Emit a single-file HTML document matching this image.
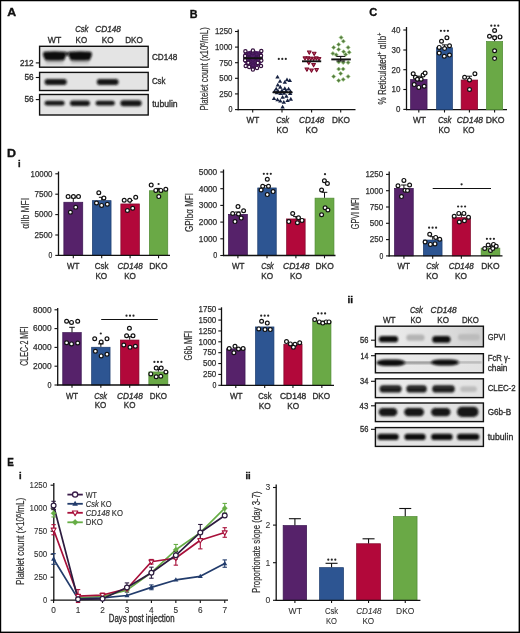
<!DOCTYPE html>
<html><head><meta charset="utf-8"><style>
html,body{margin:0;padding:0;background:#fff;width:520px;height:633px;overflow:hidden;}
svg{display:block;will-change:transform;}
text{font-family:"Liberation Sans",sans-serif;}
</style></head><body>
<svg width="520" height="633" viewBox="0 0 520 633">
<defs>
<linearGradient id="gA" x1="0" x2="1" y1="0" y2="0"><stop offset="0" stop-color="#eeeeee"/><stop offset="0.5" stop-color="#e2e2e2"/><stop offset="1" stop-color="#cfcfcf"/></linearGradient>
<linearGradient id="gB" x1="0" x2="1" y1="0" y2="0"><stop offset="0" stop-color="#ececec"/><stop offset="1" stop-color="#e2e2e2"/></linearGradient>
<linearGradient id="gC" x1="0" x2="1" y1="0" y2="0"><stop offset="0" stop-color="#e6e6e6"/><stop offset="1" stop-color="#e0e0e0"/></linearGradient>
<linearGradient id="smear" x1="0" x2="0" y1="0" y2="1"><stop offset="0" stop-color="#444"/><stop offset="1" stop-color="#c8c8c8"/></linearGradient>
<filter id="bl1" x="-20%" y="-50%" width="140%" height="200%"><feGaussianBlur stdDeviation="0.85"/></filter>
<filter id="bl2" x="-20%" y="-50%" width="140%" height="200%"><feGaussianBlur stdDeviation="1.2"/></filter>
</defs>
<rect width="520" height="633" fill="#fff"/>
<rect x="0.00" y="0.00" width="520.00" height="1.25" fill="#000" />
<rect x="0.00" y="0.00" width="1.20" height="633.00" fill="#000" />
<rect x="518.60" y="0.00" width="1.40" height="633.00" fill="#000" />
<rect x="0.00" y="631.60" width="520.00" height="1.40" fill="#000" />
<text x="7.30" y="15.80" font-size="11.5" font-weight="bold" font-style="normal" fill="#111" stroke="#111" stroke-width="0.35" textLength="8.90" lengthAdjust="spacingAndGlyphs" >A</text>
<text x="75.20" y="32.30" font-size="8.7" font-weight="normal" font-style="italic" fill="#303030" stroke="#303030" stroke-width="0.35" textLength="13.20" lengthAdjust="spacingAndGlyphs" >Csk</text>
<text x="95.20" y="32.30" font-size="8.7" font-weight="normal" font-style="italic" fill="#303030" stroke="#303030" stroke-width="0.35" textLength="25.80" lengthAdjust="spacingAndGlyphs" >CD148</text>
<text x="47.80" y="42.50" font-size="8.7" font-weight="normal" font-style="normal" fill="#303030" stroke="#303030" stroke-width="0.35" textLength="13.40" lengthAdjust="spacingAndGlyphs" >WT</text>
<text x="75.60" y="42.50" font-size="8.7" font-weight="normal" font-style="normal" fill="#303030" stroke="#303030" stroke-width="0.35" textLength="11.50" lengthAdjust="spacingAndGlyphs" >KO</text>
<text x="101.80" y="42.50" font-size="8.7" font-weight="normal" font-style="normal" fill="#303030" stroke="#303030" stroke-width="0.35" textLength="11.80" lengthAdjust="spacingAndGlyphs" >KO</text>
<text x="125.20" y="42.50" font-size="8.7" font-weight="normal" font-style="normal" fill="#303030" stroke="#303030" stroke-width="0.35" textLength="17.60" lengthAdjust="spacingAndGlyphs" >DKO</text>
<rect x="39.6" y="46.3" width="108.6" height="20.90" fill="#e4e4e4" stroke="#111" stroke-width="1.4"/>
<rect x="39.6" y="72.4" width="108.6" height="18.10" fill="#e4e4e4" stroke="#111" stroke-width="1.4"/>
<rect x="39.6" y="94.5" width="108.6" height="20.50" fill="#e4e4e4" stroke="#111" stroke-width="1.4"/>
<path d="M44.0,51.8 Q54.55,50.6 65.1,51.8 Q66.7,53 66.1,55.5 L64.1,60.2 Q54.55,61.2 45.199999999999996,60.2 L43.099999999999994,55.5 Q42.5,53 44.0,51.8 Z" fill="#0e0e0e" filter="url(#bl1)"/>
<rect x="45.8" y="59.5" width="17.5" height="5.3" fill="url(#smear)" opacity="0.4" filter="url(#bl1)"/>
<path d="M69.4,51.8 Q80.1,50.6 90.8,51.8 Q92.4,53 91.8,55.5 L89.8,60.2 Q80.1,61.2 70.60000000000001,60.2 L68.5,55.5 Q67.9,53 69.4,51.8 Z" fill="#0e0e0e" filter="url(#bl1)"/>
<rect x="71.2" y="59.5" width="17.799999999999997" height="5.3" fill="url(#smear)" opacity="0.4" filter="url(#bl1)"/>
<rect x="65.00" y="52.20" width="4.50" height="3.20" fill="#1a1a1a" filter="url(#bl1)"/>
<rect x="44.60" y="79.10" width="22.20" height="5.90" rx="2.95" ry="2.95" fill="#121212" filter="url(#bl1)"/>
<rect x="96.80" y="79.10" width="21.80" height="5.90" rx="2.95" ry="2.95" fill="#121212" filter="url(#bl1)"/>
<rect x="44.60" y="100.70" width="20.00" height="4.90" rx="2.45" ry="2.45" fill="#121212" filter="url(#bl1)"/>
<rect x="70.00" y="100.40" width="19.90" height="5.50" rx="2.75" ry="2.75" fill="#121212" filter="url(#bl1)"/>
<rect x="95.60" y="100.80" width="19.20" height="4.80" rx="2.40" ry="2.40" fill="#121212" filter="url(#bl1)"/>
<rect x="120.40" y="100.30" width="21.20" height="5.90" rx="2.95" ry="2.95" fill="#121212" filter="url(#bl1)"/>
<line x1="35.80" y1="62.90" x2="39.60" y2="62.90" stroke="#111" stroke-width="1.1"/>
<text x="19.90" y="65.70" font-size="8.3" font-weight="normal" font-style="normal" fill="#303030" stroke="#303030" stroke-width="0.35" textLength="13.70" lengthAdjust="spacingAndGlyphs" >212</text>
<line x1="35.80" y1="77.50" x2="39.60" y2="77.50" stroke="#111" stroke-width="1.1"/>
<text x="24.50" y="80.30" font-size="8.3" font-weight="normal" font-style="normal" fill="#303030" stroke="#303030" stroke-width="0.35" textLength="9.10" lengthAdjust="spacingAndGlyphs" >56</text>
<line x1="35.80" y1="99.60" x2="39.60" y2="99.60" stroke="#111" stroke-width="1.1"/>
<text x="24.50" y="102.40" font-size="8.3" font-weight="normal" font-style="normal" fill="#303030" stroke="#303030" stroke-width="0.35" textLength="9.10" lengthAdjust="spacingAndGlyphs" >56</text>
<text x="151.90" y="59.60" font-size="8.7" font-weight="normal" font-style="normal" fill="#303030" stroke="#303030" stroke-width="0.35" textLength="25.50" lengthAdjust="spacingAndGlyphs" >CD148</text>
<text x="151.90" y="83.90" font-size="8.7" font-weight="normal" font-style="normal" fill="#303030" stroke="#303030" stroke-width="0.35" textLength="13.60" lengthAdjust="spacingAndGlyphs" >Csk</text>
<text x="152.20" y="106.90" font-size="8.7" font-weight="normal" font-style="normal" fill="#303030" stroke="#303030" stroke-width="0.35" textLength="25.50" lengthAdjust="spacingAndGlyphs" >tubulin</text>
<text x="189.80" y="17.70" font-size="11.5" font-weight="bold" font-style="normal" fill="#111" stroke="#111" stroke-width="0.35" textLength="7.80" lengthAdjust="spacingAndGlyphs" >B</text>
<line x1="238.20" y1="29.50" x2="238.20" y2="110.20" stroke="#111" stroke-width="1.3"/>
<line x1="235.00" y1="31.50" x2="238.20" y2="31.50" stroke="#111" stroke-width="1.1"/>
<text x="215.00" y="34.30" font-size="8.3" font-weight="normal" font-style="normal" fill="#303030" stroke="#303030" stroke-width="0.25" textLength="17.40" lengthAdjust="spacingAndGlyphs" >1250</text>
<line x1="235.00" y1="47.10" x2="238.20" y2="47.10" stroke="#111" stroke-width="1.1"/>
<text x="215.00" y="49.90" font-size="8.3" font-weight="normal" font-style="normal" fill="#303030" stroke="#303030" stroke-width="0.25" textLength="17.40" lengthAdjust="spacingAndGlyphs" >1000</text>
<line x1="235.00" y1="62.70" x2="238.20" y2="62.70" stroke="#111" stroke-width="1.1"/>
<text x="219.30" y="65.50" font-size="8.3" font-weight="normal" font-style="normal" fill="#303030" stroke="#303030" stroke-width="0.25" textLength="13.10" lengthAdjust="spacingAndGlyphs" >750</text>
<line x1="235.00" y1="78.30" x2="238.20" y2="78.30" stroke="#111" stroke-width="1.1"/>
<text x="219.30" y="81.10" font-size="8.3" font-weight="normal" font-style="normal" fill="#303030" stroke="#303030" stroke-width="0.25" textLength="13.10" lengthAdjust="spacingAndGlyphs" >500</text>
<line x1="235.00" y1="93.90" x2="238.20" y2="93.90" stroke="#111" stroke-width="1.1"/>
<text x="219.30" y="96.70" font-size="8.3" font-weight="normal" font-style="normal" fill="#303030" stroke="#303030" stroke-width="0.25" textLength="13.10" lengthAdjust="spacingAndGlyphs" >250</text>
<line x1="235.00" y1="109.60" x2="238.20" y2="109.60" stroke="#111" stroke-width="1.1"/>
<text x="228.40" y="112.40" font-size="8.3" font-weight="normal" font-style="normal" fill="#303030" stroke="#303030" stroke-width="0.25" textLength="4.00" lengthAdjust="spacingAndGlyphs" >0</text>
<line x1="237.60" y1="109.70" x2="355.50" y2="109.70" stroke="#111" stroke-width="1.3"/>
<line x1="252.70" y1="109.70" x2="252.70" y2="112.50" stroke="#111" stroke-width="1.1"/>
<line x1="282.00" y1="109.70" x2="282.00" y2="112.50" stroke="#111" stroke-width="1.1"/>
<line x1="311.60" y1="109.70" x2="311.60" y2="112.50" stroke="#111" stroke-width="1.1"/>
<line x1="340.70" y1="109.70" x2="340.70" y2="112.50" stroke="#111" stroke-width="1.1"/>
<text x="246.50" y="122.60" font-size="8.7" font-weight="normal" font-style="normal" fill="#303030" stroke="#303030" stroke-width="0.35" textLength="12.70" lengthAdjust="spacingAndGlyphs" >WT</text>
<text x="276.00" y="122.60" font-size="8.7" font-weight="normal" font-style="italic" fill="#303030" stroke="#303030" stroke-width="0.35" textLength="13.20" lengthAdjust="spacingAndGlyphs" >Csk</text>
<text x="299.00" y="122.60" font-size="8.7" font-weight="normal" font-style="italic" fill="#303030" stroke="#303030" stroke-width="0.35" textLength="25.40" lengthAdjust="spacingAndGlyphs" >CD148</text>
<text x="332.00" y="122.60" font-size="8.7" font-weight="normal" font-style="normal" fill="#303030" stroke="#303030" stroke-width="0.35" textLength="17.80" lengthAdjust="spacingAndGlyphs" >DKO</text>
<text x="276.60" y="132.80" font-size="8.7" font-weight="normal" font-style="normal" fill="#303030" stroke="#303030" stroke-width="0.35" textLength="11.60" lengthAdjust="spacingAndGlyphs" >KO</text>
<text x="305.60" y="132.80" font-size="8.7" font-weight="normal" font-style="normal" fill="#303030" stroke="#303030" stroke-width="0.35" textLength="12.00" lengthAdjust="spacingAndGlyphs" >KO</text>
<text transform="translate(208.20,110.60) rotate(-90)" font-size="10" font-style="normal" fill="#303030" stroke="#303030" stroke-width="0.2" textLength="83.40" lengthAdjust="spacingAndGlyphs">Platelet count (x10<tspan font-size="6.5" dy="-3.5">6</tspan><tspan dy="3.5">/mL)</tspan></text>
<path d="M244.2,50.5 Q249,52.6 252.9,49.6 Q257,52.6 262,50.5 L262.8,57 L262.3,62 Q259,66.5 253,69.5 Q247,66.5 243.8,62 L243.3,57 Z" fill="#4f1d66"/>
<circle cx="249.00" cy="54.30" r="1.7" fill="none" stroke="#3a1450" stroke-width="0.9"/>
<circle cx="256.60" cy="54.30" r="1.7" fill="none" stroke="#3a1450" stroke-width="0.9"/>
<circle cx="252.80" cy="53.20" r="1.7" fill="none" stroke="#3a1450" stroke-width="0.9"/>
<circle cx="250.40" cy="61.60" r="1.7" fill="none" stroke="#3a1450" stroke-width="0.9"/>
<circle cx="255.40" cy="61.60" r="1.7" fill="none" stroke="#3a1450" stroke-width="0.9"/>
<circle cx="253.00" cy="65.40" r="1.7" fill="none" stroke="#3a1450" stroke-width="0.9"/>
<circle cx="249.50" cy="57.80" r="1.7" fill="none" stroke="#3a1450" stroke-width="0.9"/>
<circle cx="256.20" cy="57.80" r="1.7" fill="none" stroke="#3a1450" stroke-width="0.9"/>
<circle cx="252.90" cy="50.60" r="1.65" fill="#fff" stroke="#35113f" stroke-width="1.2"/>
<circle cx="245.40" cy="51.20" r="1.65" fill="#fff" stroke="#35113f" stroke-width="1.2"/>
<circle cx="261.30" cy="51.00" r="1.65" fill="#fff" stroke="#35113f" stroke-width="1.2"/>
<circle cx="245.10" cy="56.00" r="1.65" fill="#fff" stroke="#35113f" stroke-width="1.2"/>
<circle cx="245.10" cy="60.30" r="1.65" fill="#fff" stroke="#35113f" stroke-width="1.2"/>
<circle cx="261.00" cy="55.80" r="1.65" fill="#fff" stroke="#35113f" stroke-width="1.2"/>
<circle cx="261.30" cy="60.60" r="1.65" fill="#fff" stroke="#35113f" stroke-width="1.2"/>
<circle cx="248.30" cy="62.80" r="1.65" fill="#fff" stroke="#35113f" stroke-width="1.2"/>
<circle cx="257.80" cy="62.90" r="1.65" fill="#fff" stroke="#35113f" stroke-width="1.2"/>
<circle cx="245.70" cy="66.00" r="1.65" fill="#fff" stroke="#35113f" stroke-width="1.2"/>
<circle cx="249.20" cy="66.90" r="1.65" fill="#fff" stroke="#35113f" stroke-width="1.2"/>
<circle cx="252.90" cy="69.60" r="1.65" fill="#fff" stroke="#35113f" stroke-width="1.2"/>
<circle cx="257.00" cy="67.90" r="1.65" fill="#fff" stroke="#35113f" stroke-width="1.2"/>
<circle cx="261.00" cy="66.00" r="1.65" fill="#fff" stroke="#35113f" stroke-width="1.2"/>
<line x1="243.40" y1="58.20" x2="262.60" y2="58.20" stroke="#111" stroke-width="1.9"/>
<polygon points="277.50,74.73 275.30,78.55 279.70,78.55" fill="#172242" />
<polygon points="280.00,79.03 277.80,82.85 282.20,82.85" fill="#172242" />
<polygon points="284.80,80.03 282.60,83.85 287.00,83.85" fill="#172242" />
<polygon points="287.00,77.53 284.80,81.35 289.20,81.35" fill="#172242" />
<polygon points="289.80,78.13 287.60,81.95 292.00,81.95" fill="#172242" />
<polygon points="277.80,82.63 275.60,86.45 280.00,86.45" fill="#172242" />
<polygon points="280.30,84.83 278.10,88.65 282.50,88.65" fill="#172242" />
<polygon points="276.20,86.73 274.00,90.55 278.40,90.55" fill="#172242" />
<polygon points="284.80,86.13 282.60,89.95 287.00,89.95" fill="#172242" />
<polygon points="288.60,86.73 286.40,90.55 290.80,90.55" fill="#172242" />
<polygon points="274.50,89.13 272.30,92.95 276.70,92.95" fill="#172242" />
<polygon points="278.00,88.63 275.80,92.45 280.20,92.45" fill="#172242" />
<polygon points="282.00,88.13 279.80,91.95 284.20,91.95" fill="#172242" />
<polygon points="286.00,88.63 283.80,92.45 288.20,92.45" fill="#172242" />
<polygon points="290.50,89.23 288.30,93.05 292.70,93.05" fill="#172242" />
<polygon points="276.90,90.53 274.70,94.35 279.10,94.35" fill="#172242" />
<polygon points="280.50,91.13 278.30,94.95 282.70,94.95" fill="#172242" />
<polygon points="284.00,90.83 281.80,94.65 286.20,94.65" fill="#172242" />
<polygon points="290.20,91.13 288.00,94.95 292.40,94.95" fill="#172242" />
<polygon points="282.60,94.93 280.40,98.75 284.80,98.75" fill="#172242" />
<polygon points="286.40,94.03 284.20,97.85 288.60,97.85" fill="#172242" />
<polygon points="274.00,96.23 271.80,100.05 276.20,100.05" fill="#172242" />
<polygon points="277.50,97.43 275.30,101.25 279.70,101.25" fill="#172242" />
<polygon points="280.30,98.73 278.10,102.55 282.50,102.55" fill="#172242" />
<polygon points="283.80,100.03 281.60,103.85 286.00,103.85" fill="#172242" />
<polygon points="287.60,98.13 285.40,101.95 289.80,101.95" fill="#172242" />
<polygon points="290.80,96.83 288.60,100.65 293.00,100.65" fill="#172242" />
<polygon points="282.60,104.73 280.40,108.55 284.80,108.55" fill="#172242" />
<line x1="272.70" y1="92.30" x2="292.40" y2="92.30" stroke="#111" stroke-width="2.0"/>
<circle cx="278.80" cy="58.90" r="1.1" fill="#262626"/>
<circle cx="282.30" cy="58.90" r="1.1" fill="#262626"/>
<circle cx="285.80" cy="58.90" r="1.1" fill="#262626"/>
<polygon points="309.30,54.20 307.45,50.98 311.15,50.98" fill="#c9556f" stroke="#7d0d2e" stroke-width="1.1" stroke-linejoin="round"/>
<polygon points="314.20,55.50 312.35,52.28 316.05,52.28" fill="#c9556f" stroke="#7d0d2e" stroke-width="1.1" stroke-linejoin="round"/>
<polygon points="305.00,60.10 303.15,56.88 306.85,56.88" fill="#c9556f" stroke="#7d0d2e" stroke-width="1.1" stroke-linejoin="round"/>
<polygon points="308.00,60.10 306.15,56.88 309.85,56.88" fill="#c9556f" stroke="#7d0d2e" stroke-width="1.1" stroke-linejoin="round"/>
<polygon points="310.70,60.40 308.85,57.18 312.55,57.18" fill="#c9556f" stroke="#7d0d2e" stroke-width="1.1" stroke-linejoin="round"/>
<polygon points="313.60,60.50 311.75,57.28 315.45,57.28" fill="#c9556f" stroke="#7d0d2e" stroke-width="1.1" stroke-linejoin="round"/>
<polygon points="316.30,60.10 314.45,56.88 318.15,56.88" fill="#c9556f" stroke="#7d0d2e" stroke-width="1.1" stroke-linejoin="round"/>
<polygon points="319.00,60.80 317.15,57.58 320.85,57.58" fill="#c9556f" stroke="#7d0d2e" stroke-width="1.1" stroke-linejoin="round"/>
<polygon points="308.80,64.60 306.95,61.38 310.65,61.38" fill="#c9556f" stroke="#7d0d2e" stroke-width="1.1" stroke-linejoin="round"/>
<polygon points="313.60,66.80 311.75,63.58 315.45,63.58" fill="#c9556f" stroke="#7d0d2e" stroke-width="1.1" stroke-linejoin="round"/>
<polygon points="306.90,71.20 305.05,67.98 308.75,67.98" fill="#c9556f" stroke="#7d0d2e" stroke-width="1.1" stroke-linejoin="round"/>
<polygon points="311.50,72.20 309.65,68.98 313.35,68.98" fill="#c9556f" stroke="#7d0d2e" stroke-width="1.1" stroke-linejoin="round"/>
<polygon points="316.60,71.70 314.75,68.48 318.45,68.48" fill="#c9556f" stroke="#7d0d2e" stroke-width="1.1" stroke-linejoin="round"/>
<line x1="302.00" y1="61.30" x2="321.20" y2="61.30" stroke="#111" stroke-width="1.9"/>
<polygon points="341.10,35.50 343.10,37.50 341.10,39.50 339.10,37.50" fill="#557a40" stroke="#9ccc80" stroke-width="0.7"/>
<polygon points="343.40,39.20 345.40,41.20 343.40,43.20 341.40,41.20" fill="#557a40" stroke="#9ccc80" stroke-width="0.7"/>
<polygon points="338.70,42.50 340.70,44.50 338.70,46.50 336.70,44.50" fill="#557a40" stroke="#9ccc80" stroke-width="0.7"/>
<polygon points="333.70,45.40 335.70,47.40 333.70,49.40 331.70,47.40" fill="#557a40" stroke="#9ccc80" stroke-width="0.7"/>
<polygon points="348.10,45.40 350.10,47.40 348.10,49.40 346.10,47.40" fill="#557a40" stroke="#9ccc80" stroke-width="0.7"/>
<polygon points="338.70,47.40 340.70,49.40 338.70,51.40 336.70,49.40" fill="#557a40" stroke="#9ccc80" stroke-width="0.7"/>
<polygon points="343.60,49.70 345.60,51.70 343.60,53.70 341.60,51.70" fill="#557a40" stroke="#9ccc80" stroke-width="0.7"/>
<polygon points="332.90,51.50 334.90,53.50 332.90,55.50 330.90,53.50" fill="#557a40" stroke="#9ccc80" stroke-width="0.7"/>
<polygon points="349.20,50.30 351.20,52.30 349.20,54.30 347.20,52.30" fill="#557a40" stroke="#9ccc80" stroke-width="0.7"/>
<polygon points="336.20,52.80 338.20,54.80 336.20,56.80 334.20,54.80" fill="#557a40" stroke="#9ccc80" stroke-width="0.7"/>
<polygon points="345.70,52.50 347.70,54.50 345.70,56.50 343.70,54.50" fill="#557a40" stroke="#9ccc80" stroke-width="0.7"/>
<polygon points="338.70,60.10 340.70,62.10 338.70,64.10 336.70,62.10" fill="#557a40" stroke="#9ccc80" stroke-width="0.7"/>
<polygon points="343.20,60.60 345.20,62.60 343.20,64.60 341.20,62.60" fill="#557a40" stroke="#9ccc80" stroke-width="0.7"/>
<polygon points="348.10,60.60 350.10,62.60 348.10,64.60 346.10,62.60" fill="#557a40" stroke="#9ccc80" stroke-width="0.7"/>
<polygon points="338.70,67.10 340.70,69.10 338.70,71.10 336.70,69.10" fill="#557a40" stroke="#9ccc80" stroke-width="0.7"/>
<polygon points="343.20,67.00 345.20,69.00 343.20,71.00 341.20,69.00" fill="#557a40" stroke="#9ccc80" stroke-width="0.7"/>
<polygon points="340.70,71.60 342.70,73.60 340.70,75.60 338.70,73.60" fill="#557a40" stroke="#9ccc80" stroke-width="0.7"/>
<polygon points="333.70,74.50 335.70,76.50 333.70,78.50 331.70,76.50" fill="#557a40" stroke="#9ccc80" stroke-width="0.7"/>
<polygon points="348.10,74.50 350.10,76.50 348.10,78.50 346.10,76.50" fill="#557a40" stroke="#9ccc80" stroke-width="0.7"/>
<polygon points="338.70,78.60 340.70,80.60 338.70,82.60 336.70,80.60" fill="#557a40" stroke="#9ccc80" stroke-width="0.7"/>
<polygon points="343.20,77.40 345.20,79.40 343.20,81.40 341.20,79.40" fill="#557a40" stroke="#9ccc80" stroke-width="0.7"/>
<line x1="331.30" y1="59.40" x2="350.80" y2="59.40" stroke="#111" stroke-width="1.9"/>
<line x1="340.70" y1="56.40" x2="340.70" y2="61.00" stroke="#111" stroke-width="1.0"/>
<line x1="336.40" y1="56.40" x2="345.20" y2="56.40" stroke="#111" stroke-width="1.1"/>
<line x1="336.40" y1="61.00" x2="345.20" y2="61.00" stroke="#111" stroke-width="1.1"/>
<text x="369.30" y="16.20" font-size="11.5" font-weight="bold" font-style="normal" fill="#111" stroke="#111" stroke-width="0.35" textLength="8.00" lengthAdjust="spacingAndGlyphs" >C</text>
<line x1="406.50" y1="27.00" x2="406.50" y2="110.20" stroke="#111" stroke-width="1.3"/>
<line x1="403.30" y1="30.00" x2="406.50" y2="30.00" stroke="#111" stroke-width="1.1"/>
<text x="391.50" y="32.80" font-size="8.3" font-weight="normal" font-style="normal" fill="#303030" stroke="#303030" stroke-width="0.25" textLength="8.90" lengthAdjust="spacingAndGlyphs" >40</text>
<line x1="403.30" y1="50.00" x2="406.50" y2="50.00" stroke="#111" stroke-width="1.1"/>
<text x="391.50" y="52.80" font-size="8.3" font-weight="normal" font-style="normal" fill="#303030" stroke="#303030" stroke-width="0.25" textLength="8.90" lengthAdjust="spacingAndGlyphs" >30</text>
<line x1="403.30" y1="69.70" x2="406.50" y2="69.70" stroke="#111" stroke-width="1.1"/>
<text x="391.50" y="72.50" font-size="8.3" font-weight="normal" font-style="normal" fill="#303030" stroke="#303030" stroke-width="0.25" textLength="8.90" lengthAdjust="spacingAndGlyphs" >20</text>
<line x1="403.30" y1="89.50" x2="406.50" y2="89.50" stroke="#111" stroke-width="1.1"/>
<text x="391.50" y="92.30" font-size="8.3" font-weight="normal" font-style="normal" fill="#303030" stroke="#303030" stroke-width="0.25" textLength="8.90" lengthAdjust="spacingAndGlyphs" >10</text>
<line x1="403.30" y1="109.40" x2="406.50" y2="109.40" stroke="#111" stroke-width="1.1"/>
<text x="396.00" y="112.20" font-size="8.3" font-weight="normal" font-style="normal" fill="#303030" stroke="#303030" stroke-width="0.25" textLength="4.40" lengthAdjust="spacingAndGlyphs" >0</text>
<line x1="405.90" y1="109.70" x2="507.00" y2="109.70" stroke="#111" stroke-width="1.3"/>
<line x1="418.80" y1="109.70" x2="418.80" y2="112.50" stroke="#111" stroke-width="1.1"/>
<line x1="444.50" y1="109.70" x2="444.50" y2="112.50" stroke="#111" stroke-width="1.1"/>
<line x1="469.40" y1="109.70" x2="469.40" y2="112.50" stroke="#111" stroke-width="1.1"/>
<line x1="494.60" y1="109.70" x2="494.60" y2="112.50" stroke="#111" stroke-width="1.1"/>
<rect x="410.65" y="79.55" width="16.40" height="30.15" fill="#56226a" stroke="#3a1450" stroke-width="0.7"/>
<rect x="436.55" y="47.75" width="15.90" height="61.95" fill="#2d5592" stroke="#1d3c6e" stroke-width="0.7"/>
<rect x="461.15" y="80.05" width="16.50" height="29.65" fill="#b2083a" stroke="#80062a" stroke-width="0.7"/>
<rect x="486.55" y="41.55" width="16.10" height="68.15" fill="#6aa946" stroke="#4f8a33" stroke-width="0.7"/>
<line x1="418.80" y1="79.20" x2="418.80" y2="76.20" stroke="#111" stroke-width="1.0"/>
<line x1="416.20" y1="76.20" x2="421.40" y2="76.20" stroke="#111" stroke-width="1.0"/>
<line x1="444.50" y1="47.40" x2="444.50" y2="44.90" stroke="#111" stroke-width="1.0"/>
<line x1="441.90" y1="44.90" x2="447.10" y2="44.90" stroke="#111" stroke-width="1.0"/>
<line x1="469.40" y1="79.70" x2="469.40" y2="76.20" stroke="#111" stroke-width="1.0"/>
<line x1="466.80" y1="76.20" x2="472.00" y2="76.20" stroke="#111" stroke-width="1.0"/>
<line x1="494.60" y1="41.20" x2="494.60" y2="36.20" stroke="#111" stroke-width="1.0"/>
<line x1="492.00" y1="36.20" x2="497.20" y2="36.20" stroke="#111" stroke-width="1.0"/>
<circle cx="413.20" cy="73.80" r="1.9" fill="#fff" stroke="#111" stroke-width="1.2"/>
<circle cx="415.40" cy="77.20" r="1.9" fill="#fff" stroke="#111" stroke-width="1.2"/>
<circle cx="417.40" cy="79.20" r="1.9" fill="#fff" stroke="#111" stroke-width="1.2"/>
<circle cx="421.10" cy="79.20" r="1.9" fill="#fff" stroke="#111" stroke-width="1.2"/>
<circle cx="423.10" cy="75.10" r="1.9" fill="#fff" stroke="#111" stroke-width="1.2"/>
<circle cx="425.10" cy="73.10" r="1.9" fill="#fff" stroke="#111" stroke-width="1.2"/>
<circle cx="414.20" cy="84.60" r="1.9" fill="#fff" stroke="#111" stroke-width="1.2"/>
<circle cx="418.80" cy="87.40" r="1.9" fill="#fff" stroke="#111" stroke-width="1.2"/>
<circle cx="424.20" cy="86.20" r="1.9" fill="#fff" stroke="#111" stroke-width="1.2"/>
<circle cx="446.90" cy="37.70" r="1.9" fill="#fff" stroke="#111" stroke-width="1.2"/>
<circle cx="441.50" cy="41.20" r="1.9" fill="#fff" stroke="#111" stroke-width="1.2"/>
<circle cx="439.20" cy="47.40" r="1.9" fill="#fff" stroke="#111" stroke-width="1.2"/>
<circle cx="444.60" cy="48.50" r="1.9" fill="#fff" stroke="#111" stroke-width="1.2"/>
<circle cx="449.50" cy="45.80" r="1.9" fill="#fff" stroke="#111" stroke-width="1.2"/>
<circle cx="439.20" cy="53.10" r="1.9" fill="#fff" stroke="#111" stroke-width="1.2"/>
<circle cx="444.30" cy="56.20" r="1.9" fill="#fff" stroke="#111" stroke-width="1.2"/>
<circle cx="449.50" cy="55.10" r="1.9" fill="#fff" stroke="#111" stroke-width="1.2"/>
<circle cx="464.60" cy="77.20" r="1.9" fill="#fff" stroke="#111" stroke-width="1.2"/>
<circle cx="469.50" cy="80.00" r="1.9" fill="#fff" stroke="#111" stroke-width="1.2"/>
<circle cx="474.90" cy="73.80" r="1.9" fill="#fff" stroke="#111" stroke-width="1.2"/>
<circle cx="469.50" cy="89.50" r="1.9" fill="#fff" stroke="#111" stroke-width="1.2"/>
<circle cx="494.60" cy="30.50" r="1.9" fill="#fff" stroke="#111" stroke-width="1.2"/>
<circle cx="489.50" cy="36.20" r="1.9" fill="#fff" stroke="#111" stroke-width="1.2"/>
<circle cx="494.60" cy="37.70" r="1.9" fill="#fff" stroke="#111" stroke-width="1.2"/>
<circle cx="500.00" cy="36.90" r="1.9" fill="#fff" stroke="#111" stroke-width="1.2"/>
<circle cx="494.60" cy="50.80" r="1.9" fill="#fff" stroke="#111" stroke-width="1.2"/>
<circle cx="494.60" cy="58.50" r="1.9" fill="#fff" stroke="#111" stroke-width="1.2"/>
<circle cx="440.90" cy="30.80" r="1.1" fill="#262626"/>
<circle cx="444.40" cy="30.80" r="1.1" fill="#262626"/>
<circle cx="447.90" cy="30.80" r="1.1" fill="#262626"/>
<circle cx="491.30" cy="25.70" r="1.1" fill="#262626"/>
<circle cx="494.80" cy="25.70" r="1.1" fill="#262626"/>
<circle cx="498.30" cy="25.70" r="1.1" fill="#262626"/>
<text x="412.90" y="123.30" font-size="8.7" font-weight="normal" font-style="normal" fill="#303030" stroke="#303030" stroke-width="0.35" textLength="12.90" lengthAdjust="spacingAndGlyphs" >WT</text>
<text x="438.00" y="123.30" font-size="8.7" font-weight="normal" font-style="italic" fill="#303030" stroke="#303030" stroke-width="0.35" textLength="13.40" lengthAdjust="spacingAndGlyphs" >Csk</text>
<text x="456.80" y="123.30" font-size="8.7" font-weight="normal" font-style="italic" fill="#303030" stroke="#303030" stroke-width="0.35" textLength="26.20" lengthAdjust="spacingAndGlyphs" >CD148</text>
<text x="485.70" y="123.30" font-size="8.7" font-weight="normal" font-style="normal" fill="#303030" stroke="#303030" stroke-width="0.35" textLength="18.80" lengthAdjust="spacingAndGlyphs" >DKO</text>
<text x="438.60" y="132.70" font-size="8.7" font-weight="normal" font-style="normal" fill="#303030" stroke="#303030" stroke-width="0.35" textLength="11.40" lengthAdjust="spacingAndGlyphs" >KO</text>
<text x="463.00" y="132.70" font-size="8.7" font-weight="normal" font-style="normal" fill="#303030" stroke="#303030" stroke-width="0.35" textLength="11.60" lengthAdjust="spacingAndGlyphs" >KO</text>
<text transform="translate(385.80,104.50) rotate(-90)" font-size="10" font-style="normal" fill="#303030" stroke="#303030" stroke-width="0.2" textLength="71.90" lengthAdjust="spacingAndGlyphs">% Reticulated<tspan font-size="6.5" dy="-3.5">+</tspan><tspan dy="3.5"> αIIb</tspan><tspan font-size="6.5" dy="-3.5">+</tspan></text>
<text x="6.90" y="157.00" font-size="11.5" font-weight="bold" font-style="normal" fill="#111" stroke="#111" stroke-width="0.35" textLength="9.00" lengthAdjust="spacingAndGlyphs" >D</text>
<text x="18.00" y="166.50" font-size="9" font-weight="bold" font-style="normal" fill="#111" stroke="#111" stroke-width="0.35" textLength="2.60" lengthAdjust="spacingAndGlyphs" >i</text>
<line x1="58.50" y1="171.50" x2="58.50" y2="256.00" stroke="#111" stroke-width="1.3"/>
<line x1="55.30" y1="173.80" x2="58.50" y2="173.80" stroke="#111" stroke-width="1.1"/>
<text x="30.50" y="176.60" font-size="8.3" font-weight="normal" font-style="normal" fill="#303030" stroke="#303030" stroke-width="0.25" textLength="21.90" lengthAdjust="spacingAndGlyphs" >10000</text>
<line x1="55.30" y1="194.20" x2="58.50" y2="194.20" stroke="#111" stroke-width="1.1"/>
<text x="34.40" y="197.00" font-size="8.3" font-weight="normal" font-style="normal" fill="#303030" stroke="#303030" stroke-width="0.25" textLength="18.00" lengthAdjust="spacingAndGlyphs" >7500</text>
<line x1="55.30" y1="214.60" x2="58.50" y2="214.60" stroke="#111" stroke-width="1.1"/>
<text x="34.40" y="217.40" font-size="8.3" font-weight="normal" font-style="normal" fill="#303030" stroke="#303030" stroke-width="0.25" textLength="18.00" lengthAdjust="spacingAndGlyphs" >5000</text>
<line x1="55.30" y1="235.00" x2="58.50" y2="235.00" stroke="#111" stroke-width="1.1"/>
<text x="34.40" y="237.80" font-size="8.3" font-weight="normal" font-style="normal" fill="#303030" stroke="#303030" stroke-width="0.25" textLength="18.00" lengthAdjust="spacingAndGlyphs" >2500</text>
<line x1="55.30" y1="255.40" x2="58.50" y2="255.40" stroke="#111" stroke-width="1.1"/>
<text x="48.60" y="258.20" font-size="8.3" font-weight="normal" font-style="normal" fill="#303030" stroke="#303030" stroke-width="0.25" textLength="3.80" lengthAdjust="spacingAndGlyphs" >0</text>
<rect x="63.85" y="202.25" width="18.90" height="53.15" fill="#56226a" stroke="#3a1450" stroke-width="0.7"/>
<rect x="92.35" y="200.65" width="18.70" height="54.75" fill="#2d5592" stroke="#1d3c6e" stroke-width="0.7"/>
<rect x="120.85" y="203.95" width="18.50" height="51.45" fill="#b2083a" stroke="#80062a" stroke-width="0.7"/>
<rect x="149.35" y="190.75" width="18.40" height="64.65" fill="#6aa946" stroke="#4f8a33" stroke-width="0.7"/>
<line x1="73.30" y1="201.90" x2="73.30" y2="197.90" stroke="#111" stroke-width="1.0"/>
<line x1="70.50" y1="197.90" x2="76.10" y2="197.90" stroke="#111" stroke-width="1.0"/>
<line x1="101.70" y1="200.30" x2="101.70" y2="197.30" stroke="#111" stroke-width="1.0"/>
<line x1="98.90" y1="197.30" x2="104.50" y2="197.30" stroke="#111" stroke-width="1.0"/>
<line x1="130.10" y1="203.60" x2="130.10" y2="200.60" stroke="#111" stroke-width="1.0"/>
<line x1="127.30" y1="200.60" x2="132.90" y2="200.60" stroke="#111" stroke-width="1.0"/>
<line x1="158.55" y1="190.40" x2="158.55" y2="188.40" stroke="#111" stroke-width="1.0"/>
<line x1="155.75" y1="188.40" x2="161.35" y2="188.40" stroke="#111" stroke-width="1.0"/>
<line x1="57.90" y1="255.40" x2="170.00" y2="255.40" stroke="#111" stroke-width="1.3"/>
<line x1="73.30" y1="255.40" x2="73.30" y2="258.20" stroke="#111" stroke-width="1.1"/>
<line x1="101.70" y1="255.40" x2="101.70" y2="258.20" stroke="#111" stroke-width="1.1"/>
<line x1="130.10" y1="255.40" x2="130.10" y2="258.20" stroke="#111" stroke-width="1.1"/>
<line x1="158.55" y1="255.40" x2="158.55" y2="258.20" stroke="#111" stroke-width="1.1"/>
<circle cx="68.10" cy="196.60" r="1.9" fill="#fff" stroke="#111" stroke-width="1.2"/>
<circle cx="73.40" cy="196.60" r="1.9" fill="#fff" stroke="#111" stroke-width="1.2"/>
<circle cx="78.50" cy="196.60" r="1.9" fill="#fff" stroke="#111" stroke-width="1.2"/>
<circle cx="75.70" cy="207.30" r="1.9" fill="#fff" stroke="#111" stroke-width="1.2"/>
<circle cx="70.40" cy="212.30" r="1.9" fill="#fff" stroke="#111" stroke-width="1.2"/>
<circle cx="98.80" cy="192.70" r="1.9" fill="#fff" stroke="#111" stroke-width="1.2"/>
<circle cx="103.90" cy="198.00" r="1.9" fill="#fff" stroke="#111" stroke-width="1.2"/>
<circle cx="96.50" cy="203.00" r="1.9" fill="#fff" stroke="#111" stroke-width="1.2"/>
<circle cx="101.60" cy="205.40" r="1.9" fill="#fff" stroke="#111" stroke-width="1.2"/>
<circle cx="107.30" cy="204.20" r="1.9" fill="#fff" stroke="#111" stroke-width="1.2"/>
<circle cx="124.20" cy="200.30" r="1.9" fill="#fff" stroke="#111" stroke-width="1.2"/>
<circle cx="129.70" cy="200.30" r="1.9" fill="#fff" stroke="#111" stroke-width="1.2"/>
<circle cx="135.70" cy="197.30" r="1.9" fill="#fff" stroke="#111" stroke-width="1.2"/>
<circle cx="132.70" cy="208.20" r="1.9" fill="#fff" stroke="#111" stroke-width="1.2"/>
<circle cx="127.40" cy="210.50" r="1.9" fill="#fff" stroke="#111" stroke-width="1.2"/>
<circle cx="151.20" cy="185.10" r="1.9" fill="#fff" stroke="#111" stroke-width="1.2"/>
<circle cx="155.80" cy="190.40" r="1.9" fill="#fff" stroke="#111" stroke-width="1.2"/>
<circle cx="160.90" cy="190.40" r="1.9" fill="#fff" stroke="#111" stroke-width="1.2"/>
<circle cx="165.80" cy="189.20" r="1.9" fill="#fff" stroke="#111" stroke-width="1.2"/>
<circle cx="158.80" cy="196.60" r="1.9" fill="#fff" stroke="#111" stroke-width="1.2"/>
<circle cx="158.60" cy="184.00" r="1.1" fill="#262626"/>
<text x="67.00" y="268.60" font-size="8.7" font-weight="normal" font-style="normal" fill="#303030" stroke="#303030" stroke-width="0.35" textLength="12.50" lengthAdjust="spacingAndGlyphs" >WT</text>
<text x="94.70" y="268.60" font-size="8.7" font-weight="normal" font-style="normal" fill="#303030" stroke="#303030" stroke-width="0.35" textLength="13.70" lengthAdjust="spacingAndGlyphs" >Csk</text>
<text x="117.50" y="268.60" font-size="8.7" font-weight="normal" font-style="italic" fill="#303030" stroke="#303030" stroke-width="0.35" textLength="25.20" lengthAdjust="spacingAndGlyphs" >CD148</text>
<text x="149.20" y="268.60" font-size="8.7" font-weight="normal" font-style="normal" fill="#303030" stroke="#303030" stroke-width="0.35" textLength="18.30" lengthAdjust="spacingAndGlyphs" >DKO</text>
<text x="95.40" y="278.60" font-size="8.7" font-weight="normal" font-style="normal" fill="#303030" stroke="#303030" stroke-width="0.35" textLength="11.80" lengthAdjust="spacingAndGlyphs" >KO</text>
<text x="124.20" y="278.60" font-size="8.7" font-weight="normal" font-style="normal" fill="#303030" stroke="#303030" stroke-width="0.35" textLength="11.70" lengthAdjust="spacingAndGlyphs" >KO</text>
<text transform="translate(28.60,228.80) rotate(-90)" font-size="10.2" font-style="normal" fill="#303030" stroke="#303030" stroke-width="0.2" textLength="30.80" lengthAdjust="spacingAndGlyphs">αIIb MFI</text>
<line x1="223.50" y1="169.50" x2="223.50" y2="256.10" stroke="#111" stroke-width="1.3"/>
<line x1="220.30" y1="172.00" x2="223.50" y2="172.00" stroke="#111" stroke-width="1.1"/>
<text x="198.80" y="174.80" font-size="8.3" font-weight="normal" font-style="normal" fill="#303030" stroke="#303030" stroke-width="0.25" textLength="18.40" lengthAdjust="spacingAndGlyphs" >5000</text>
<line x1="220.30" y1="188.70" x2="223.50" y2="188.70" stroke="#111" stroke-width="1.1"/>
<text x="198.80" y="191.50" font-size="8.3" font-weight="normal" font-style="normal" fill="#303030" stroke="#303030" stroke-width="0.25" textLength="18.40" lengthAdjust="spacingAndGlyphs" >4000</text>
<line x1="220.30" y1="205.40" x2="223.50" y2="205.40" stroke="#111" stroke-width="1.1"/>
<text x="198.80" y="208.20" font-size="8.3" font-weight="normal" font-style="normal" fill="#303030" stroke="#303030" stroke-width="0.25" textLength="18.40" lengthAdjust="spacingAndGlyphs" >3000</text>
<line x1="220.30" y1="222.10" x2="223.50" y2="222.10" stroke="#111" stroke-width="1.1"/>
<text x="198.80" y="224.90" font-size="8.3" font-weight="normal" font-style="normal" fill="#303030" stroke="#303030" stroke-width="0.25" textLength="18.40" lengthAdjust="spacingAndGlyphs" >2000</text>
<line x1="220.30" y1="238.80" x2="223.50" y2="238.80" stroke="#111" stroke-width="1.1"/>
<text x="198.80" y="241.60" font-size="8.3" font-weight="normal" font-style="normal" fill="#303030" stroke="#303030" stroke-width="0.25" textLength="18.40" lengthAdjust="spacingAndGlyphs" >1000</text>
<line x1="220.30" y1="255.50" x2="223.50" y2="255.50" stroke="#111" stroke-width="1.1"/>
<text x="213.20" y="258.30" font-size="8.3" font-weight="normal" font-style="normal" fill="#303030" stroke="#303030" stroke-width="0.25" textLength="4.00" lengthAdjust="spacingAndGlyphs" >0</text>
<rect x="228.45" y="214.35" width="18.90" height="41.15" fill="#56226a" stroke="#3a1450" stroke-width="0.7"/>
<rect x="257.75" y="187.95" width="18.50" height="67.55" fill="#2d5592" stroke="#1d3c6e" stroke-width="0.7"/>
<rect x="286.65" y="218.95" width="18.50" height="36.55" fill="#b2083a" stroke="#80062a" stroke-width="0.7"/>
<rect x="315.05" y="198.15" width="18.90" height="57.35" fill="#6aa946" stroke="#4f8a33" stroke-width="0.7"/>
<line x1="237.90" y1="214.00" x2="237.90" y2="212.00" stroke="#111" stroke-width="1.0"/>
<line x1="235.10" y1="212.00" x2="240.70" y2="212.00" stroke="#111" stroke-width="1.0"/>
<line x1="267.00" y1="187.60" x2="267.00" y2="185.60" stroke="#111" stroke-width="1.0"/>
<line x1="264.20" y1="185.60" x2="269.80" y2="185.60" stroke="#111" stroke-width="1.0"/>
<line x1="295.90" y1="218.60" x2="295.90" y2="216.60" stroke="#111" stroke-width="1.0"/>
<line x1="293.10" y1="216.60" x2="298.70" y2="216.60" stroke="#111" stroke-width="1.0"/>
<line x1="324.50" y1="197.80" x2="324.50" y2="192.30" stroke="#111" stroke-width="1.0"/>
<line x1="321.70" y1="192.30" x2="327.30" y2="192.30" stroke="#111" stroke-width="1.0"/>
<line x1="222.90" y1="255.50" x2="335.50" y2="255.50" stroke="#111" stroke-width="1.3"/>
<line x1="237.90" y1="255.50" x2="237.90" y2="258.30" stroke="#111" stroke-width="1.1"/>
<line x1="267.00" y1="255.50" x2="267.00" y2="258.30" stroke="#111" stroke-width="1.1"/>
<line x1="295.90" y1="255.50" x2="295.90" y2="258.30" stroke="#111" stroke-width="1.1"/>
<line x1="324.50" y1="255.50" x2="324.50" y2="258.30" stroke="#111" stroke-width="1.1"/>
<circle cx="238.00" cy="206.60" r="1.9" fill="#fff" stroke="#111" stroke-width="1.2"/>
<circle cx="232.70" cy="213.50" r="1.9" fill="#fff" stroke="#111" stroke-width="1.2"/>
<circle cx="238.50" cy="214.00" r="1.9" fill="#fff" stroke="#111" stroke-width="1.2"/>
<circle cx="243.60" cy="210.70" r="1.9" fill="#fff" stroke="#111" stroke-width="1.2"/>
<circle cx="235.00" cy="221.60" r="1.9" fill="#fff" stroke="#111" stroke-width="1.2"/>
<circle cx="241.20" cy="218.10" r="1.9" fill="#fff" stroke="#111" stroke-width="1.2"/>
<circle cx="267.30" cy="179.30" r="1.9" fill="#fff" stroke="#111" stroke-width="1.2"/>
<circle cx="262.70" cy="186.20" r="1.9" fill="#fff" stroke="#111" stroke-width="1.2"/>
<circle cx="268.50" cy="186.20" r="1.9" fill="#fff" stroke="#111" stroke-width="1.2"/>
<circle cx="261.10" cy="190.00" r="1.9" fill="#fff" stroke="#111" stroke-width="1.2"/>
<circle cx="273.10" cy="191.60" r="1.9" fill="#fff" stroke="#111" stroke-width="1.2"/>
<circle cx="267.30" cy="194.60" r="1.9" fill="#fff" stroke="#111" stroke-width="1.2"/>
<circle cx="292.70" cy="213.50" r="1.9" fill="#fff" stroke="#111" stroke-width="1.2"/>
<circle cx="298.50" cy="217.70" r="1.9" fill="#fff" stroke="#111" stroke-width="1.2"/>
<circle cx="288.80" cy="221.60" r="1.9" fill="#fff" stroke="#111" stroke-width="1.2"/>
<circle cx="302.00" cy="220.40" r="1.9" fill="#fff" stroke="#111" stroke-width="1.2"/>
<circle cx="297.40" cy="222.70" r="1.9" fill="#fff" stroke="#111" stroke-width="1.2"/>
<circle cx="324.40" cy="180.70" r="1.9" fill="#fff" stroke="#111" stroke-width="1.2"/>
<circle cx="327.40" cy="183.50" r="1.9" fill="#fff" stroke="#111" stroke-width="1.2"/>
<circle cx="321.60" cy="190.00" r="1.9" fill="#fff" stroke="#111" stroke-width="1.2"/>
<circle cx="325.10" cy="207.70" r="1.9" fill="#fff" stroke="#111" stroke-width="1.2"/>
<circle cx="327.90" cy="210.00" r="1.9" fill="#fff" stroke="#111" stroke-width="1.2"/>
<circle cx="321.60" cy="214.70" r="1.9" fill="#fff" stroke="#111" stroke-width="1.2"/>
<circle cx="263.80" cy="173.80" r="1.1" fill="#262626"/>
<circle cx="267.30" cy="173.80" r="1.1" fill="#262626"/>
<circle cx="270.80" cy="173.80" r="1.1" fill="#262626"/>
<circle cx="325.00" cy="174.20" r="1.1" fill="#262626"/>
<text x="232.00" y="268.70" font-size="8.7" font-weight="normal" font-style="normal" fill="#303030" stroke="#303030" stroke-width="0.35" textLength="12.50" lengthAdjust="spacingAndGlyphs" >WT</text>
<text x="261.20" y="268.70" font-size="8.7" font-weight="normal" font-style="italic" fill="#303030" stroke="#303030" stroke-width="0.35" textLength="12.50" lengthAdjust="spacingAndGlyphs" >Csk</text>
<text x="283.00" y="268.70" font-size="8.7" font-weight="normal" font-style="italic" fill="#303030" stroke="#303030" stroke-width="0.35" textLength="26.50" lengthAdjust="spacingAndGlyphs" >CD148</text>
<text x="315.50" y="268.70" font-size="8.7" font-weight="normal" font-style="normal" fill="#303030" stroke="#303030" stroke-width="0.35" textLength="18.20" lengthAdjust="spacingAndGlyphs" >DKO</text>
<text x="261.20" y="278.70" font-size="8.7" font-weight="normal" font-style="normal" fill="#303030" stroke="#303030" stroke-width="0.35" textLength="11.80" lengthAdjust="spacingAndGlyphs" >KO</text>
<text x="290.00" y="278.70" font-size="8.7" font-weight="normal" font-style="normal" fill="#303030" stroke="#303030" stroke-width="0.35" textLength="12.00" lengthAdjust="spacingAndGlyphs" >KO</text>
<text transform="translate(192.60,232.00) rotate(-90)" font-size="10.2" font-style="normal" fill="#303030" stroke="#303030" stroke-width="0.2" textLength="39.00" lengthAdjust="spacingAndGlyphs">GPIbα MFI</text>
<line x1="389.20" y1="171.50" x2="389.20" y2="256.50" stroke="#111" stroke-width="1.3"/>
<line x1="386.00" y1="174.40" x2="389.20" y2="174.40" stroke="#111" stroke-width="1.1"/>
<text x="365.40" y="177.20" font-size="8.3" font-weight="normal" font-style="normal" fill="#303030" stroke="#303030" stroke-width="0.25" textLength="17.80" lengthAdjust="spacingAndGlyphs" >1250</text>
<line x1="386.00" y1="190.70" x2="389.20" y2="190.70" stroke="#111" stroke-width="1.1"/>
<text x="365.40" y="193.50" font-size="8.3" font-weight="normal" font-style="normal" fill="#303030" stroke="#303030" stroke-width="0.25" textLength="17.80" lengthAdjust="spacingAndGlyphs" >1000</text>
<line x1="386.00" y1="207.00" x2="389.20" y2="207.00" stroke="#111" stroke-width="1.1"/>
<text x="369.80" y="209.80" font-size="8.3" font-weight="normal" font-style="normal" fill="#303030" stroke="#303030" stroke-width="0.25" textLength="13.40" lengthAdjust="spacingAndGlyphs" >750</text>
<line x1="386.00" y1="223.30" x2="389.20" y2="223.30" stroke="#111" stroke-width="1.1"/>
<text x="369.80" y="226.10" font-size="8.3" font-weight="normal" font-style="normal" fill="#303030" stroke="#303030" stroke-width="0.25" textLength="13.40" lengthAdjust="spacingAndGlyphs" >500</text>
<line x1="386.00" y1="239.60" x2="389.20" y2="239.60" stroke="#111" stroke-width="1.1"/>
<text x="369.80" y="242.40" font-size="8.3" font-weight="normal" font-style="normal" fill="#303030" stroke="#303030" stroke-width="0.25" textLength="13.40" lengthAdjust="spacingAndGlyphs" >250</text>
<line x1="386.00" y1="255.90" x2="389.20" y2="255.90" stroke="#111" stroke-width="1.1"/>
<text x="379.40" y="258.70" font-size="8.3" font-weight="normal" font-style="normal" fill="#303030" stroke="#303030" stroke-width="0.25" textLength="3.80" lengthAdjust="spacingAndGlyphs" >0</text>
<rect x="394.55" y="188.35" width="18.70" height="67.55" fill="#56226a" stroke="#3a1450" stroke-width="0.7"/>
<rect x="423.35" y="240.05" width="18.70" height="15.85" fill="#2d5592" stroke="#1d3c6e" stroke-width="0.7"/>
<rect x="452.25" y="217.65" width="18.20" height="38.25" fill="#b2083a" stroke="#80062a" stroke-width="0.7"/>
<rect x="481.15" y="248.15" width="18.70" height="7.75" fill="#6aa946" stroke="#4f8a33" stroke-width="0.7"/>
<line x1="403.90" y1="188.00" x2="403.90" y2="185.00" stroke="#111" stroke-width="1.0"/>
<line x1="401.10" y1="185.00" x2="406.70" y2="185.00" stroke="#111" stroke-width="1.0"/>
<line x1="432.70" y1="239.70" x2="432.70" y2="236.70" stroke="#111" stroke-width="1.0"/>
<line x1="429.90" y1="236.70" x2="435.50" y2="236.70" stroke="#111" stroke-width="1.0"/>
<line x1="461.35" y1="217.30" x2="461.35" y2="214.30" stroke="#111" stroke-width="1.0"/>
<line x1="458.55" y1="214.30" x2="464.15" y2="214.30" stroke="#111" stroke-width="1.0"/>
<line x1="490.50" y1="247.80" x2="490.50" y2="245.80" stroke="#111" stroke-width="1.0"/>
<line x1="487.70" y1="245.80" x2="493.30" y2="245.80" stroke="#111" stroke-width="1.0"/>
<line x1="388.60" y1="255.90" x2="502.50" y2="255.90" stroke="#111" stroke-width="1.3"/>
<line x1="403.90" y1="255.90" x2="403.90" y2="258.70" stroke="#111" stroke-width="1.1"/>
<line x1="432.70" y1="255.90" x2="432.70" y2="258.70" stroke="#111" stroke-width="1.1"/>
<line x1="461.35" y1="255.90" x2="461.35" y2="258.70" stroke="#111" stroke-width="1.1"/>
<line x1="490.50" y1="255.90" x2="490.50" y2="258.70" stroke="#111" stroke-width="1.1"/>
<circle cx="403.90" cy="180.40" r="1.9" fill="#fff" stroke="#111" stroke-width="1.2"/>
<circle cx="398.00" cy="185.70" r="1.9" fill="#fff" stroke="#111" stroke-width="1.2"/>
<circle cx="409.60" cy="185.00" r="1.9" fill="#fff" stroke="#111" stroke-width="1.2"/>
<circle cx="405.00" cy="190.30" r="1.9" fill="#fff" stroke="#111" stroke-width="1.2"/>
<circle cx="401.50" cy="196.60" r="1.9" fill="#fff" stroke="#111" stroke-width="1.2"/>
<circle cx="407.50" cy="190.50" r="1.9" fill="#fff" stroke="#111" stroke-width="1.2"/>
<circle cx="429.70" cy="234.20" r="1.9" fill="#fff" stroke="#111" stroke-width="1.2"/>
<circle cx="425.10" cy="242.00" r="1.9" fill="#fff" stroke="#111" stroke-width="1.2"/>
<circle cx="430.40" cy="244.40" r="1.9" fill="#fff" stroke="#111" stroke-width="1.2"/>
<circle cx="435.70" cy="237.40" r="1.9" fill="#fff" stroke="#111" stroke-width="1.2"/>
<circle cx="439.70" cy="239.30" r="1.9" fill="#fff" stroke="#111" stroke-width="1.2"/>
<circle cx="435.00" cy="243.90" r="1.9" fill="#fff" stroke="#111" stroke-width="1.2"/>
<circle cx="458.80" cy="213.40" r="1.9" fill="#fff" stroke="#111" stroke-width="1.2"/>
<circle cx="463.90" cy="213.40" r="1.9" fill="#fff" stroke="#111" stroke-width="1.2"/>
<circle cx="454.20" cy="216.20" r="1.9" fill="#fff" stroke="#111" stroke-width="1.2"/>
<circle cx="468.50" cy="217.30" r="1.9" fill="#fff" stroke="#111" stroke-width="1.2"/>
<circle cx="459.30" cy="222.00" r="1.9" fill="#fff" stroke="#111" stroke-width="1.2"/>
<circle cx="464.40" cy="220.80" r="1.9" fill="#fff" stroke="#111" stroke-width="1.2"/>
<circle cx="488.20" cy="245.00" r="1.9" fill="#fff" stroke="#111" stroke-width="1.2"/>
<circle cx="493.50" cy="244.40" r="1.9" fill="#fff" stroke="#111" stroke-width="1.2"/>
<circle cx="496.20" cy="246.20" r="1.9" fill="#fff" stroke="#111" stroke-width="1.2"/>
<circle cx="484.70" cy="248.50" r="1.9" fill="#fff" stroke="#111" stroke-width="1.2"/>
<circle cx="490.50" cy="250.40" r="1.9" fill="#fff" stroke="#111" stroke-width="1.2"/>
<circle cx="492.80" cy="248.50" r="1.9" fill="#fff" stroke="#111" stroke-width="1.2"/>
<line x1="432.70" y1="188.50" x2="491.00" y2="188.50" stroke="#111" stroke-width="1.1"/>
<circle cx="461.60" cy="184.30" r="1.1" fill="#262626"/>
<circle cx="429.10" cy="227.70" r="1.1" fill="#262626"/>
<circle cx="432.60" cy="227.70" r="1.1" fill="#262626"/>
<circle cx="436.10" cy="227.70" r="1.1" fill="#262626"/>
<circle cx="458.10" cy="206.50" r="1.1" fill="#262626"/>
<circle cx="461.60" cy="206.50" r="1.1" fill="#262626"/>
<circle cx="465.10" cy="206.50" r="1.1" fill="#262626"/>
<circle cx="486.90" cy="238.80" r="1.1" fill="#262626"/>
<circle cx="490.40" cy="238.80" r="1.1" fill="#262626"/>
<circle cx="493.90" cy="238.80" r="1.1" fill="#262626"/>
<text x="397.50" y="268.70" font-size="8.7" font-weight="normal" font-style="normal" fill="#303030" stroke="#303030" stroke-width="0.35" textLength="12.50" lengthAdjust="spacingAndGlyphs" >WT</text>
<text x="426.20" y="268.70" font-size="8.7" font-weight="normal" font-style="italic" fill="#303030" stroke="#303030" stroke-width="0.35" textLength="12.50" lengthAdjust="spacingAndGlyphs" >Csk</text>
<text x="448.70" y="268.70" font-size="8.7" font-weight="normal" font-style="italic" fill="#303030" stroke="#303030" stroke-width="0.35" textLength="25.00" lengthAdjust="spacingAndGlyphs" >CD148</text>
<text x="481.20" y="268.70" font-size="8.7" font-weight="normal" font-style="normal" fill="#303030" stroke="#303030" stroke-width="0.35" textLength="18.30" lengthAdjust="spacingAndGlyphs" >DKO</text>
<text x="426.20" y="278.70" font-size="8.7" font-weight="normal" font-style="normal" fill="#303030" stroke="#303030" stroke-width="0.35" textLength="11.80" lengthAdjust="spacingAndGlyphs" >KO</text>
<text x="455.00" y="278.70" font-size="8.7" font-weight="normal" font-style="normal" fill="#303030" stroke="#303030" stroke-width="0.35" textLength="12.00" lengthAdjust="spacingAndGlyphs" >KO</text>
<text transform="translate(359.20,229.20) rotate(-90)" font-size="10.2" font-style="normal" fill="#303030" stroke="#303030" stroke-width="0.2" textLength="31.50" lengthAdjust="spacingAndGlyphs">GPVI MFI</text>
<line x1="57.70" y1="308.00" x2="57.70" y2="385.60" stroke="#111" stroke-width="1.3"/>
<line x1="54.50" y1="309.80" x2="57.70" y2="309.80" stroke="#111" stroke-width="1.1"/>
<text x="33.00" y="312.60" font-size="8.3" font-weight="normal" font-style="normal" fill="#303030" stroke="#303030" stroke-width="0.25" textLength="18.60" lengthAdjust="spacingAndGlyphs" >8000</text>
<line x1="54.50" y1="328.60" x2="57.70" y2="328.60" stroke="#111" stroke-width="1.1"/>
<text x="33.00" y="331.40" font-size="8.3" font-weight="normal" font-style="normal" fill="#303030" stroke="#303030" stroke-width="0.25" textLength="18.60" lengthAdjust="spacingAndGlyphs" >6000</text>
<line x1="54.50" y1="347.40" x2="57.70" y2="347.40" stroke="#111" stroke-width="1.1"/>
<text x="33.00" y="350.20" font-size="8.3" font-weight="normal" font-style="normal" fill="#303030" stroke="#303030" stroke-width="0.25" textLength="18.60" lengthAdjust="spacingAndGlyphs" >4000</text>
<line x1="54.50" y1="366.20" x2="57.70" y2="366.20" stroke="#111" stroke-width="1.1"/>
<text x="33.00" y="369.00" font-size="8.3" font-weight="normal" font-style="normal" fill="#303030" stroke="#303030" stroke-width="0.25" textLength="18.60" lengthAdjust="spacingAndGlyphs" >2000</text>
<line x1="54.50" y1="385.00" x2="57.70" y2="385.00" stroke="#111" stroke-width="1.1"/>
<text x="47.60" y="387.80" font-size="8.3" font-weight="normal" font-style="normal" fill="#303030" stroke="#303030" stroke-width="0.25" textLength="4.00" lengthAdjust="spacingAndGlyphs" >0</text>
<rect x="62.75" y="332.65" width="18.50" height="52.35" fill="#56226a" stroke="#3a1450" stroke-width="0.7"/>
<rect x="91.65" y="347.25" width="18.40" height="37.75" fill="#2d5592" stroke="#1d3c6e" stroke-width="0.7"/>
<rect x="120.45" y="340.05" width="18.50" height="44.95" fill="#b2083a" stroke="#80062a" stroke-width="0.7"/>
<rect x="148.85" y="371.95" width="19.00" height="13.05" fill="#6aa946" stroke="#4f8a33" stroke-width="0.7"/>
<line x1="72.00" y1="332.30" x2="72.00" y2="327.30" stroke="#111" stroke-width="1.0"/>
<line x1="69.20" y1="327.30" x2="74.80" y2="327.30" stroke="#111" stroke-width="1.0"/>
<line x1="100.85" y1="346.90" x2="100.85" y2="343.90" stroke="#111" stroke-width="1.0"/>
<line x1="98.05" y1="343.90" x2="103.65" y2="343.90" stroke="#111" stroke-width="1.0"/>
<line x1="129.70" y1="339.70" x2="129.70" y2="336.70" stroke="#111" stroke-width="1.0"/>
<line x1="126.90" y1="336.70" x2="132.50" y2="336.70" stroke="#111" stroke-width="1.0"/>
<line x1="158.35" y1="371.60" x2="158.35" y2="369.60" stroke="#111" stroke-width="1.0"/>
<line x1="155.55" y1="369.60" x2="161.15" y2="369.60" stroke="#111" stroke-width="1.0"/>
<line x1="57.10" y1="385.00" x2="170.00" y2="385.00" stroke="#111" stroke-width="1.3"/>
<line x1="72.00" y1="385.00" x2="72.00" y2="387.80" stroke="#111" stroke-width="1.1"/>
<line x1="100.85" y1="385.00" x2="100.85" y2="387.80" stroke="#111" stroke-width="1.1"/>
<line x1="129.70" y1="385.00" x2="129.70" y2="387.80" stroke="#111" stroke-width="1.1"/>
<line x1="158.35" y1="385.00" x2="158.35" y2="387.80" stroke="#111" stroke-width="1.1"/>
<circle cx="66.60" cy="321.20" r="1.9" fill="#fff" stroke="#111" stroke-width="1.2"/>
<circle cx="71.50" cy="322.40" r="1.9" fill="#fff" stroke="#111" stroke-width="1.2"/>
<circle cx="77.70" cy="321.20" r="1.9" fill="#fff" stroke="#111" stroke-width="1.2"/>
<circle cx="66.60" cy="342.70" r="1.9" fill="#fff" stroke="#111" stroke-width="1.2"/>
<circle cx="71.50" cy="343.90" r="1.9" fill="#fff" stroke="#111" stroke-width="1.2"/>
<circle cx="77.70" cy="343.00" r="1.9" fill="#fff" stroke="#111" stroke-width="1.2"/>
<circle cx="94.70" cy="338.80" r="1.9" fill="#fff" stroke="#111" stroke-width="1.2"/>
<circle cx="101.20" cy="342.00" r="1.9" fill="#fff" stroke="#111" stroke-width="1.2"/>
<circle cx="107.00" cy="338.80" r="1.9" fill="#fff" stroke="#111" stroke-width="1.2"/>
<circle cx="95.40" cy="351.30" r="1.9" fill="#fff" stroke="#111" stroke-width="1.2"/>
<circle cx="101.20" cy="355.90" r="1.9" fill="#fff" stroke="#111" stroke-width="1.2"/>
<circle cx="107.00" cy="354.30" r="1.9" fill="#fff" stroke="#111" stroke-width="1.2"/>
<circle cx="129.40" cy="328.20" r="1.9" fill="#fff" stroke="#111" stroke-width="1.2"/>
<circle cx="126.60" cy="335.80" r="1.9" fill="#fff" stroke="#111" stroke-width="1.2"/>
<circle cx="133.00" cy="335.80" r="1.9" fill="#fff" stroke="#111" stroke-width="1.2"/>
<circle cx="123.80" cy="345.00" r="1.9" fill="#fff" stroke="#111" stroke-width="1.2"/>
<circle cx="130.00" cy="347.30" r="1.9" fill="#fff" stroke="#111" stroke-width="1.2"/>
<circle cx="135.40" cy="346.20" r="1.9" fill="#fff" stroke="#111" stroke-width="1.2"/>
<circle cx="156.20" cy="368.10" r="1.9" fill="#fff" stroke="#111" stroke-width="1.2"/>
<circle cx="161.20" cy="368.10" r="1.9" fill="#fff" stroke="#111" stroke-width="1.2"/>
<circle cx="150.80" cy="373.90" r="1.9" fill="#fff" stroke="#111" stroke-width="1.2"/>
<circle cx="156.20" cy="376.70" r="1.9" fill="#fff" stroke="#111" stroke-width="1.2"/>
<circle cx="160.80" cy="376.20" r="1.9" fill="#fff" stroke="#111" stroke-width="1.2"/>
<circle cx="165.90" cy="372.00" r="1.9" fill="#fff" stroke="#111" stroke-width="1.2"/>
<line x1="101.20" y1="319.50" x2="157.80" y2="319.50" stroke="#111" stroke-width="1.1"/>
<circle cx="126.50" cy="315.70" r="1.1" fill="#262626"/>
<circle cx="130.00" cy="315.70" r="1.1" fill="#262626"/>
<circle cx="133.50" cy="315.70" r="1.1" fill="#262626"/>
<circle cx="100.80" cy="333.50" r="1.1" fill="#262626"/>
<circle cx="154.40" cy="361.90" r="1.1" fill="#262626"/>
<circle cx="157.90" cy="361.90" r="1.1" fill="#262626"/>
<circle cx="161.40" cy="361.90" r="1.1" fill="#262626"/>
<text x="65.90" y="398.50" font-size="8.7" font-weight="normal" font-style="normal" fill="#303030" stroke="#303030" stroke-width="0.35" textLength="12.20" lengthAdjust="spacingAndGlyphs" >WT</text>
<text x="94.30" y="398.50" font-size="8.7" font-weight="normal" font-style="italic" fill="#303030" stroke="#303030" stroke-width="0.35" textLength="12.70" lengthAdjust="spacingAndGlyphs" >Csk</text>
<text x="116.90" y="398.50" font-size="8.7" font-weight="normal" font-style="italic" fill="#303030" stroke="#303030" stroke-width="0.35" textLength="25.90" lengthAdjust="spacingAndGlyphs" >CD148</text>
<text x="149.70" y="398.50" font-size="8.7" font-weight="normal" font-style="normal" fill="#303030" stroke="#303030" stroke-width="0.35" textLength="17.30" lengthAdjust="spacingAndGlyphs" >DKO</text>
<text x="94.70" y="408.20" font-size="8.7" font-weight="normal" font-style="normal" fill="#303030" stroke="#303030" stroke-width="0.35" textLength="11.60" lengthAdjust="spacingAndGlyphs" >KO</text>
<text x="123.80" y="408.20" font-size="8.7" font-weight="normal" font-style="normal" fill="#303030" stroke="#303030" stroke-width="0.35" textLength="11.60" lengthAdjust="spacingAndGlyphs" >KO</text>
<text transform="translate(27.70,365.80) rotate(-90)" font-size="10.2" font-style="normal" fill="#303030" stroke="#303030" stroke-width="0.2" textLength="39.30" lengthAdjust="spacingAndGlyphs">CLEC-2 MFI</text>
<line x1="221.50" y1="307.30" x2="221.50" y2="385.90" stroke="#111" stroke-width="1.3"/>
<line x1="218.30" y1="309.21" x2="221.50" y2="309.21" stroke="#111" stroke-width="1.1"/>
<text x="198.50" y="312.01" font-size="8.3" font-weight="normal" font-style="normal" fill="#303030" stroke="#303030" stroke-width="0.25" textLength="17.80" lengthAdjust="spacingAndGlyphs" >1750</text>
<line x1="218.30" y1="320.08" x2="221.50" y2="320.08" stroke="#111" stroke-width="1.1"/>
<text x="198.50" y="322.88" font-size="8.3" font-weight="normal" font-style="normal" fill="#303030" stroke="#303030" stroke-width="0.25" textLength="17.80" lengthAdjust="spacingAndGlyphs" >1500</text>
<line x1="218.30" y1="330.95" x2="221.50" y2="330.95" stroke="#111" stroke-width="1.1"/>
<text x="198.50" y="333.75" font-size="8.3" font-weight="normal" font-style="normal" fill="#303030" stroke="#303030" stroke-width="0.25" textLength="17.80" lengthAdjust="spacingAndGlyphs" >1250</text>
<line x1="218.30" y1="341.82" x2="221.50" y2="341.82" stroke="#111" stroke-width="1.1"/>
<text x="198.50" y="344.62" font-size="8.3" font-weight="normal" font-style="normal" fill="#303030" stroke="#303030" stroke-width="0.25" textLength="17.80" lengthAdjust="spacingAndGlyphs" >1000</text>
<line x1="218.30" y1="352.69" x2="221.50" y2="352.69" stroke="#111" stroke-width="1.1"/>
<text x="203.00" y="355.49" font-size="8.3" font-weight="normal" font-style="normal" fill="#303030" stroke="#303030" stroke-width="0.25" textLength="13.30" lengthAdjust="spacingAndGlyphs" >750</text>
<line x1="218.30" y1="363.56" x2="221.50" y2="363.56" stroke="#111" stroke-width="1.1"/>
<text x="203.00" y="366.36" font-size="8.3" font-weight="normal" font-style="normal" fill="#303030" stroke="#303030" stroke-width="0.25" textLength="13.30" lengthAdjust="spacingAndGlyphs" >500</text>
<line x1="218.30" y1="374.43" x2="221.50" y2="374.43" stroke="#111" stroke-width="1.1"/>
<text x="203.00" y="377.23" font-size="8.3" font-weight="normal" font-style="normal" fill="#303030" stroke="#303030" stroke-width="0.25" textLength="13.30" lengthAdjust="spacingAndGlyphs" >250</text>
<line x1="218.30" y1="385.30" x2="221.50" y2="385.30" stroke="#111" stroke-width="1.1"/>
<text x="212.40" y="388.10" font-size="8.3" font-weight="normal" font-style="normal" fill="#303030" stroke="#303030" stroke-width="0.25" textLength="3.90" lengthAdjust="spacingAndGlyphs" >0</text>
<rect x="226.55" y="348.85" width="18.50" height="36.45" fill="#56226a" stroke="#3a1450" stroke-width="0.7"/>
<rect x="255.45" y="326.95" width="18.50" height="58.35" fill="#2d5592" stroke="#1d3c6e" stroke-width="0.7"/>
<rect x="283.85" y="344.25" width="18.20" height="41.05" fill="#b2083a" stroke="#80062a" stroke-width="0.7"/>
<rect x="312.75" y="321.15" width="18.20" height="64.15" fill="#6aa946" stroke="#4f8a33" stroke-width="0.7"/>
<line x1="220.90" y1="385.30" x2="334.00" y2="385.30" stroke="#111" stroke-width="1.3"/>
<line x1="235.80" y1="385.30" x2="235.80" y2="388.10" stroke="#111" stroke-width="1.1"/>
<line x1="264.70" y1="385.30" x2="264.70" y2="388.10" stroke="#111" stroke-width="1.1"/>
<line x1="292.95" y1="385.30" x2="292.95" y2="388.10" stroke="#111" stroke-width="1.1"/>
<line x1="321.85" y1="385.30" x2="321.85" y2="388.10" stroke="#111" stroke-width="1.1"/>
<circle cx="229.20" cy="348.50" r="1.9" fill="#fff" stroke="#111" stroke-width="1.2"/>
<circle cx="235.00" cy="346.20" r="1.9" fill="#fff" stroke="#111" stroke-width="1.2"/>
<circle cx="238.50" cy="349.00" r="1.9" fill="#fff" stroke="#111" stroke-width="1.2"/>
<circle cx="243.10" cy="348.50" r="1.9" fill="#fff" stroke="#111" stroke-width="1.2"/>
<circle cx="233.90" cy="352.70" r="1.9" fill="#fff" stroke="#111" stroke-width="1.2"/>
<circle cx="261.60" cy="321.20" r="1.9" fill="#fff" stroke="#111" stroke-width="1.2"/>
<circle cx="267.30" cy="323.10" r="1.9" fill="#fff" stroke="#111" stroke-width="1.2"/>
<circle cx="258.80" cy="328.90" r="1.9" fill="#fff" stroke="#111" stroke-width="1.2"/>
<circle cx="265.00" cy="329.60" r="1.9" fill="#fff" stroke="#111" stroke-width="1.2"/>
<circle cx="270.30" cy="329.60" r="1.9" fill="#fff" stroke="#111" stroke-width="1.2"/>
<circle cx="286.50" cy="341.60" r="1.9" fill="#fff" stroke="#111" stroke-width="1.2"/>
<circle cx="290.40" cy="343.90" r="1.9" fill="#fff" stroke="#111" stroke-width="1.2"/>
<circle cx="295.00" cy="344.30" r="1.9" fill="#fff" stroke="#111" stroke-width="1.2"/>
<circle cx="299.70" cy="342.70" r="1.9" fill="#fff" stroke="#111" stroke-width="1.2"/>
<circle cx="293.40" cy="347.30" r="1.9" fill="#fff" stroke="#111" stroke-width="1.2"/>
<circle cx="314.70" cy="319.60" r="1.9" fill="#fff" stroke="#111" stroke-width="1.2"/>
<circle cx="319.30" cy="321.90" r="1.9" fill="#fff" stroke="#111" stroke-width="1.2"/>
<circle cx="322.80" cy="323.10" r="1.9" fill="#fff" stroke="#111" stroke-width="1.2"/>
<circle cx="326.20" cy="321.90" r="1.9" fill="#fff" stroke="#111" stroke-width="1.2"/>
<circle cx="329.00" cy="321.90" r="1.9" fill="#fff" stroke="#111" stroke-width="1.2"/>
<circle cx="261.20" cy="315.70" r="1.1" fill="#262626"/>
<circle cx="264.70" cy="315.70" r="1.1" fill="#262626"/>
<circle cx="268.20" cy="315.70" r="1.1" fill="#262626"/>
<circle cx="318.10" cy="313.40" r="1.1" fill="#262626"/>
<circle cx="321.60" cy="313.40" r="1.1" fill="#262626"/>
<circle cx="325.10" cy="313.40" r="1.1" fill="#262626"/>
<text x="229.90" y="398.80" font-size="8.7" font-weight="normal" font-style="normal" fill="#303030" stroke="#303030" stroke-width="0.35" textLength="12.70" lengthAdjust="spacingAndGlyphs" >WT</text>
<text x="258.30" y="398.80" font-size="8.7" font-weight="normal" font-style="normal" fill="#303030" stroke="#303030" stroke-width="0.35" textLength="13.20" lengthAdjust="spacingAndGlyphs" >Csk</text>
<text x="280.00" y="398.80" font-size="8.7" font-weight="normal" font-style="normal" fill="#303030" stroke="#303030" stroke-width="0.35" textLength="26.30" lengthAdjust="spacingAndGlyphs" >CD148</text>
<text x="312.40" y="398.80" font-size="8.7" font-weight="normal" font-style="normal" fill="#303030" stroke="#303030" stroke-width="0.35" textLength="17.60" lengthAdjust="spacingAndGlyphs" >DKO</text>
<text x="258.80" y="408.80" font-size="8.7" font-weight="normal" font-style="normal" fill="#303030" stroke="#303030" stroke-width="0.35" textLength="12.00" lengthAdjust="spacingAndGlyphs" >KO</text>
<text x="287.30" y="408.80" font-size="8.7" font-weight="normal" font-style="normal" fill="#303030" stroke="#303030" stroke-width="0.35" textLength="11.90" lengthAdjust="spacingAndGlyphs" >KO</text>
<text transform="translate(192.30,360.40) rotate(-90)" font-size="10.2" font-style="normal" fill="#303030" stroke="#303030" stroke-width="0.2" textLength="29.40" lengthAdjust="spacingAndGlyphs">G6b MFI</text>
<text x="347.40" y="302.60" font-size="9.5" font-weight="bold" font-style="normal" fill="#111" stroke="#111" stroke-width="0.3" textLength="5.60" lengthAdjust="spacingAndGlyphs" >ii</text>
<text x="410.00" y="312.80" font-size="8.7" font-weight="normal" font-style="italic" fill="#303030" stroke="#303030" stroke-width="0.35" textLength="12.80" lengthAdjust="spacingAndGlyphs" >Csk</text>
<text x="430.60" y="312.80" font-size="8.7" font-weight="normal" font-style="italic" fill="#303030" stroke="#303030" stroke-width="0.35" textLength="26.00" lengthAdjust="spacingAndGlyphs" >CD148</text>
<text x="382.90" y="322.60" font-size="8.7" font-weight="normal" font-style="normal" fill="#303030" stroke="#303030" stroke-width="0.35" textLength="12.60" lengthAdjust="spacingAndGlyphs" >WT</text>
<text x="410.60" y="322.60" font-size="8.7" font-weight="normal" font-style="normal" fill="#303030" stroke="#303030" stroke-width="0.35" textLength="10.80" lengthAdjust="spacingAndGlyphs" >KO</text>
<text x="437.30" y="322.60" font-size="8.7" font-weight="normal" font-style="normal" fill="#303030" stroke="#303030" stroke-width="0.35" textLength="11.60" lengthAdjust="spacingAndGlyphs" >KO</text>
<text x="462.00" y="322.60" font-size="8.7" font-weight="normal" font-style="normal" fill="#303030" stroke="#303030" stroke-width="0.35" textLength="16.80" lengthAdjust="spacingAndGlyphs" >DKO</text>
<rect x="375.4" y="326.2" width="108.0" height="20.60" fill="url(#gA)" stroke="#111" stroke-width="1.4"/>
<rect x="375.4" y="353.7" width="108.0" height="19.10" fill="url(#gB)" stroke="#111" stroke-width="1.4"/>
<rect x="375.4" y="378.8" width="108.0" height="18.80" fill="url(#gB)" stroke="#111" stroke-width="1.4"/>
<rect x="375.4" y="403.0" width="108.0" height="18.60" fill="url(#gC)" stroke="#111" stroke-width="1.4"/>
<rect x="375.4" y="427.6" width="108.0" height="18.80" fill="url(#gC)" stroke="#111" stroke-width="1.4"/>
<line x1="371.00" y1="340.20" x2="375.40" y2="340.20" stroke="#111" stroke-width="1.1"/>
<text x="360.00" y="343.00" font-size="8.3" font-weight="normal" font-style="normal" fill="#303030" stroke="#303030" stroke-width="0.35" textLength="8.30" lengthAdjust="spacingAndGlyphs" >56</text>
<line x1="371.00" y1="355.70" x2="375.40" y2="355.70" stroke="#111" stroke-width="1.1"/>
<text x="360.60" y="358.50" font-size="8.3" font-weight="normal" font-style="normal" fill="#303030" stroke="#303030" stroke-width="0.35" textLength="7.70" lengthAdjust="spacingAndGlyphs" >14</text>
<line x1="371.00" y1="381.30" x2="375.40" y2="381.30" stroke="#111" stroke-width="1.1"/>
<text x="360.00" y="384.10" font-size="8.3" font-weight="normal" font-style="normal" fill="#303030" stroke="#303030" stroke-width="0.35" textLength="8.30" lengthAdjust="spacingAndGlyphs" >34</text>
<line x1="371.00" y1="405.80" x2="375.40" y2="405.80" stroke="#111" stroke-width="1.1"/>
<text x="359.60" y="408.60" font-size="8.3" font-weight="normal" font-style="normal" fill="#303030" stroke="#303030" stroke-width="0.35" textLength="8.70" lengthAdjust="spacingAndGlyphs" >43</text>
<line x1="371.00" y1="429.30" x2="375.40" y2="429.30" stroke="#111" stroke-width="1.1"/>
<text x="360.00" y="432.10" font-size="8.3" font-weight="normal" font-style="normal" fill="#303030" stroke="#303030" stroke-width="0.35" textLength="8.30" lengthAdjust="spacingAndGlyphs" >56</text>
<rect x="378.90" y="336.00" width="19.20" height="6.30" rx="3.15" ry="3.15" fill="#0c0c0c" filter="url(#bl1)"/>
<rect x="406.30" y="334.50" width="18.30" height="6.30" rx="3.15" ry="3.15" fill="#b4b4b4" filter="url(#bl2)"/>
<rect x="432.20" y="336.00" width="18.30" height="6.80" rx="3.40" ry="3.40" fill="#111" filter="url(#bl1)"/>
<rect x="458.00" y="334.00" width="22.00" height="6.50" rx="3.25" ry="3.25" fill="#bcbcbc" filter="url(#bl2)"/>
<rect x="376.4" y="359.6" width="29" height="6.4" rx="9" ry="3.2" fill="#0c0c0c" filter="url(#bl1)"/>
<rect x="403.00" y="361.90" width="29.00" height="1.50" fill="#555" filter="url(#bl1)"/>
<rect x="431" y="359.4" width="28.2" height="6.0" rx="9" ry="3.0" fill="#0c0c0c" filter="url(#bl1)"/>
<rect x="457.00" y="361.70" width="25.00" height="1.30" fill="#888" filter="url(#bl1)"/>
<rect x="379.60" y="385.20" width="22.00" height="7.40" rx="3.70" ry="3.70" fill="#1a1a1a" filter="url(#bl1)"/>
<rect x="381.60" y="386.60" width="18.00" height="1.60" fill="#555" opacity="0.5" filter="url(#bl1)"/>
<rect x="406.30" y="385.20" width="20.50" height="7.40" rx="3.70" ry="3.70" fill="#1a1a1a" filter="url(#bl1)"/>
<rect x="408.30" y="386.60" width="16.50" height="1.60" fill="#555" opacity="0.5" filter="url(#bl1)"/>
<rect x="432.20" y="385.20" width="22.60" height="7.40" rx="3.70" ry="3.70" fill="#1a1a1a" filter="url(#bl1)"/>
<rect x="434.20" y="386.60" width="18.60" height="1.60" fill="#555" opacity="0.5" filter="url(#bl1)"/>
<rect x="460.20" y="386.20" width="16.80" height="5.80" rx="2.90" ry="2.90" fill="#bdbdbd" filter="url(#bl2)"/>
<rect x="378.70" y="408.00" width="18.60" height="8.30" rx="4.15" ry="4.15" fill="#121212" filter="url(#bl1)"/>
<rect x="404.20" y="408.00" width="19.80" height="8.30" rx="4.15" ry="4.15" fill="#121212" filter="url(#bl1)"/>
<rect x="431.10" y="408.00" width="19.40" height="8.30" rx="4.15" ry="4.15" fill="#121212" filter="url(#bl1)"/>
<rect x="457.00" y="406.80" width="21.50" height="10.20" rx="5.10" ry="5.10" fill="#121212" filter="url(#bl1)"/>
<rect x="377.40" y="433.80" width="21.40" height="6.20" rx="3.10" ry="3.10" fill="#101010" filter="url(#bl1)"/>
<rect x="404.40" y="433.80" width="21.30" height="6.20" rx="3.10" ry="3.10" fill="#101010" filter="url(#bl1)"/>
<rect x="431.10" y="433.80" width="21.60" height="6.20" rx="3.10" ry="3.10" fill="#101010" filter="url(#bl1)"/>
<rect x="457.00" y="433.80" width="22.40" height="6.20" rx="3.10" ry="3.10" fill="#101010" filter="url(#bl1)"/>
<text x="487.70" y="339.60" font-size="8.7" font-weight="normal" font-style="normal" fill="#303030" stroke="#303030" stroke-width="0.35" textLength="17.90" lengthAdjust="spacingAndGlyphs" >GPVI</text>
<text x="487.70" y="361.30" font-size="8.7" font-weight="normal" font-style="normal" fill="#303030" stroke="#303030" stroke-width="0.35" textLength="22.70" lengthAdjust="spacingAndGlyphs" >FcR γ-</text>
<text x="487.70" y="371.00" font-size="8.7" font-weight="normal" font-style="normal" fill="#303030" stroke="#303030" stroke-width="0.35" textLength="19.80" lengthAdjust="spacingAndGlyphs" >chain</text>
<text x="487.70" y="391.20" font-size="8.7" font-weight="normal" font-style="normal" fill="#303030" stroke="#303030" stroke-width="0.35" textLength="27.90" lengthAdjust="spacingAndGlyphs" >CLEC-2</text>
<text x="487.70" y="415.20" font-size="8.7" font-weight="normal" font-style="normal" fill="#303030" stroke="#303030" stroke-width="0.35" textLength="23.60" lengthAdjust="spacingAndGlyphs" >G6b-B</text>
<text x="487.70" y="439.60" font-size="8.7" font-weight="normal" font-style="normal" fill="#303030" stroke="#303030" stroke-width="0.35" textLength="25.60" lengthAdjust="spacingAndGlyphs" >tubulin</text>
<text x="7.20" y="466.20" font-size="11.5" font-weight="bold" font-style="normal" fill="#111" stroke="#111" stroke-width="0.35" textLength="6.60" lengthAdjust="spacingAndGlyphs" >E</text>
<text x="19.00" y="478.50" font-size="9" font-weight="bold" font-style="normal" fill="#111" stroke="#111" stroke-width="0.35" textLength="2.60" lengthAdjust="spacingAndGlyphs" >i</text>
<line x1="53.80" y1="483.00" x2="53.80" y2="600.80" stroke="#111" stroke-width="1.3"/>
<line x1="50.60" y1="485.20" x2="53.80" y2="485.20" stroke="#111" stroke-width="1.1"/>
<text x="29.50" y="488.00" font-size="8.3" font-weight="normal" font-style="normal" fill="#303030" stroke="#303030" stroke-width="0.1" textLength="17.70" lengthAdjust="spacingAndGlyphs" >1250</text>
<line x1="50.60" y1="508.20" x2="53.80" y2="508.20" stroke="#111" stroke-width="1.1"/>
<text x="29.50" y="511.00" font-size="8.3" font-weight="normal" font-style="normal" fill="#303030" stroke="#303030" stroke-width="0.1" textLength="17.70" lengthAdjust="spacingAndGlyphs" >1000</text>
<line x1="50.60" y1="531.20" x2="53.80" y2="531.20" stroke="#111" stroke-width="1.1"/>
<text x="34.00" y="534.00" font-size="8.3" font-weight="normal" font-style="normal" fill="#303030" stroke="#303030" stroke-width="0.1" textLength="13.20" lengthAdjust="spacingAndGlyphs" >750</text>
<line x1="50.60" y1="554.20" x2="53.80" y2="554.20" stroke="#111" stroke-width="1.1"/>
<text x="34.00" y="557.00" font-size="8.3" font-weight="normal" font-style="normal" fill="#303030" stroke="#303030" stroke-width="0.1" textLength="13.20" lengthAdjust="spacingAndGlyphs" >500</text>
<line x1="50.60" y1="577.20" x2="53.80" y2="577.20" stroke="#111" stroke-width="1.1"/>
<text x="34.00" y="580.00" font-size="8.3" font-weight="normal" font-style="normal" fill="#303030" stroke="#303030" stroke-width="0.1" textLength="13.20" lengthAdjust="spacingAndGlyphs" >250</text>
<line x1="50.60" y1="600.20" x2="53.80" y2="600.20" stroke="#111" stroke-width="1.1"/>
<text x="43.00" y="603.00" font-size="8.3" font-weight="normal" font-style="normal" fill="#303030" stroke="#303030" stroke-width="0.1" textLength="4.20" lengthAdjust="spacingAndGlyphs" >0</text>
<line x1="53.20" y1="600.20" x2="228.00" y2="600.20" stroke="#111" stroke-width="1.3"/>
<line x1="53.60" y1="600.20" x2="53.60" y2="603.00" stroke="#111" stroke-width="1.1"/>
<line x1="78.05" y1="600.20" x2="78.05" y2="603.00" stroke="#111" stroke-width="1.1"/>
<line x1="102.50" y1="600.20" x2="102.50" y2="603.00" stroke="#111" stroke-width="1.1"/>
<line x1="126.95" y1="600.20" x2="126.95" y2="603.00" stroke="#111" stroke-width="1.1"/>
<line x1="151.40" y1="600.20" x2="151.40" y2="603.00" stroke="#111" stroke-width="1.1"/>
<line x1="175.85" y1="600.20" x2="175.85" y2="603.00" stroke="#111" stroke-width="1.1"/>
<line x1="200.30" y1="600.20" x2="200.30" y2="603.00" stroke="#111" stroke-width="1.1"/>
<line x1="224.75" y1="600.20" x2="224.75" y2="603.00" stroke="#111" stroke-width="1.1"/>
<text x="51.30" y="613.00" font-size="8.6" font-weight="normal" font-style="normal" fill="#303030" stroke="#303030" stroke-width="0.12" textLength="4.60" lengthAdjust="spacingAndGlyphs" >0</text>
<text x="75.75" y="613.00" font-size="8.6" font-weight="normal" font-style="normal" fill="#303030" stroke="#303030" stroke-width="0.12" textLength="4.60" lengthAdjust="spacingAndGlyphs" >1</text>
<text x="100.20" y="613.00" font-size="8.6" font-weight="normal" font-style="normal" fill="#303030" stroke="#303030" stroke-width="0.12" textLength="4.60" lengthAdjust="spacingAndGlyphs" >2</text>
<text x="124.65" y="613.00" font-size="8.6" font-weight="normal" font-style="normal" fill="#303030" stroke="#303030" stroke-width="0.12" textLength="4.60" lengthAdjust="spacingAndGlyphs" >3</text>
<text x="149.10" y="613.00" font-size="8.6" font-weight="normal" font-style="normal" fill="#303030" stroke="#303030" stroke-width="0.12" textLength="4.60" lengthAdjust="spacingAndGlyphs" >4</text>
<text x="173.55" y="613.00" font-size="8.6" font-weight="normal" font-style="normal" fill="#303030" stroke="#303030" stroke-width="0.12" textLength="4.60" lengthAdjust="spacingAndGlyphs" >5</text>
<text x="198.00" y="613.00" font-size="8.6" font-weight="normal" font-style="normal" fill="#303030" stroke="#303030" stroke-width="0.12" textLength="4.60" lengthAdjust="spacingAndGlyphs" >6</text>
<text x="222.45" y="613.00" font-size="8.6" font-weight="normal" font-style="normal" fill="#303030" stroke="#303030" stroke-width="0.12" textLength="4.60" lengthAdjust="spacingAndGlyphs" >7</text>
<text x="108.80" y="621.60" font-size="10.3" font-weight="normal" font-style="normal" fill="#303030" stroke="#303030" stroke-width="0.35" textLength="65.70" lengthAdjust="spacingAndGlyphs" >Days post injection</text>
<text transform="translate(24.00,585.00) rotate(-90)" font-size="10" font-style="normal" fill="#303030" stroke="#303030" stroke-width="0.2" textLength="87.20" lengthAdjust="spacingAndGlyphs">Platelet count (×10<tspan font-size="6.5" dy="-3.5">6</tspan><tspan dy="3.5">/mL)</tspan></text>
<polyline points="78.05,597.90 102.50,596.52 126.95,590.08 151.40,572.60 175.85,549.78 200.30,532.58 224.75,508.20" fill="none" stroke="#66ad45" stroke-width="1.7" stroke-linejoin="round"/>
<line x1="53.60" y1="509.58" x2="53.60" y2="516.94" stroke="#66ad45" stroke-width="1.1"/>
<line x1="51.40" y1="509.58" x2="55.80" y2="509.58" stroke="#66ad45" stroke-width="1.1"/>
<line x1="51.40" y1="516.94" x2="55.80" y2="516.94" stroke="#66ad45" stroke-width="1.1"/>
<line x1="175.85" y1="544.45" x2="175.85" y2="555.12" stroke="#66ad45" stroke-width="1.1"/>
<line x1="173.65" y1="544.45" x2="178.05" y2="544.45" stroke="#66ad45" stroke-width="1.1"/>
<line x1="173.65" y1="555.12" x2="178.05" y2="555.12" stroke="#66ad45" stroke-width="1.1"/>
<line x1="224.75" y1="503.42" x2="224.75" y2="512.98" stroke="#66ad45" stroke-width="1.1"/>
<line x1="222.55" y1="503.42" x2="226.95" y2="503.42" stroke="#66ad45" stroke-width="1.1"/>
<line x1="222.55" y1="512.98" x2="226.95" y2="512.98" stroke="#66ad45" stroke-width="1.1"/>
<polyline points="53.60,529.73 78.05,596.06 102.50,595.05 126.95,588.79 151.40,561.74 175.85,557.97 200.30,540.31 224.75,532.49" fill="none" stroke="#a8103a" stroke-width="1.7" stroke-linejoin="round"/>
<line x1="53.60" y1="524.67" x2="53.60" y2="534.79" stroke="#a8103a" stroke-width="1.1"/>
<line x1="51.40" y1="524.67" x2="55.80" y2="524.67" stroke="#a8103a" stroke-width="1.1"/>
<line x1="51.40" y1="534.79" x2="55.80" y2="534.79" stroke="#a8103a" stroke-width="1.1"/>
<line x1="78.05" y1="589.62" x2="78.05" y2="602.50" stroke="#a8103a" stroke-width="1.1"/>
<line x1="75.85" y1="589.62" x2="80.25" y2="589.62" stroke="#a8103a" stroke-width="1.1"/>
<line x1="75.85" y1="602.50" x2="80.25" y2="602.50" stroke="#a8103a" stroke-width="1.1"/>
<line x1="102.50" y1="593.21" x2="102.50" y2="596.89" stroke="#a8103a" stroke-width="1.1"/>
<line x1="100.30" y1="593.21" x2="104.70" y2="593.21" stroke="#a8103a" stroke-width="1.1"/>
<line x1="100.30" y1="596.89" x2="104.70" y2="596.89" stroke="#a8103a" stroke-width="1.1"/>
<line x1="126.95" y1="586.95" x2="126.95" y2="590.63" stroke="#a8103a" stroke-width="1.1"/>
<line x1="124.75" y1="586.95" x2="129.15" y2="586.95" stroke="#a8103a" stroke-width="1.1"/>
<line x1="124.75" y1="590.63" x2="129.15" y2="590.63" stroke="#a8103a" stroke-width="1.1"/>
<line x1="151.40" y1="559.44" x2="151.40" y2="564.04" stroke="#a8103a" stroke-width="1.1"/>
<line x1="149.20" y1="559.44" x2="153.60" y2="559.44" stroke="#a8103a" stroke-width="1.1"/>
<line x1="149.20" y1="564.04" x2="153.60" y2="564.04" stroke="#a8103a" stroke-width="1.1"/>
<line x1="175.85" y1="550.80" x2="175.85" y2="565.15" stroke="#a8103a" stroke-width="1.1"/>
<line x1="173.65" y1="550.80" x2="178.05" y2="550.80" stroke="#a8103a" stroke-width="1.1"/>
<line x1="173.65" y1="565.15" x2="178.05" y2="565.15" stroke="#a8103a" stroke-width="1.1"/>
<line x1="200.30" y1="531.75" x2="200.30" y2="548.86" stroke="#a8103a" stroke-width="1.1"/>
<line x1="198.10" y1="531.75" x2="202.50" y2="531.75" stroke="#a8103a" stroke-width="1.1"/>
<line x1="198.10" y1="548.86" x2="202.50" y2="548.86" stroke="#a8103a" stroke-width="1.1"/>
<line x1="224.75" y1="527.70" x2="224.75" y2="537.27" stroke="#a8103a" stroke-width="1.1"/>
<line x1="222.55" y1="527.70" x2="226.95" y2="527.70" stroke="#a8103a" stroke-width="1.1"/>
<line x1="222.55" y1="537.27" x2="226.95" y2="537.27" stroke="#a8103a" stroke-width="1.1"/>
<polyline points="53.60,558.98 78.05,598.82 102.50,597.90 126.95,595.51 151.40,587.32 175.85,579.96 200.30,576.37 224.75,563.58" fill="none" stroke="#223c6c" stroke-width="1.7" stroke-linejoin="round"/>
<line x1="53.60" y1="553.65" x2="53.60" y2="564.32" stroke="#223c6c" stroke-width="1.1"/>
<line x1="51.40" y1="553.65" x2="55.80" y2="553.65" stroke="#223c6c" stroke-width="1.1"/>
<line x1="51.40" y1="564.32" x2="55.80" y2="564.32" stroke="#223c6c" stroke-width="1.1"/>
<line x1="151.40" y1="584.93" x2="151.40" y2="589.71" stroke="#223c6c" stroke-width="1.1"/>
<line x1="149.20" y1="584.93" x2="153.60" y2="584.93" stroke="#223c6c" stroke-width="1.1"/>
<line x1="149.20" y1="589.71" x2="153.60" y2="589.71" stroke="#223c6c" stroke-width="1.1"/>
<line x1="224.75" y1="559.90" x2="224.75" y2="567.26" stroke="#223c6c" stroke-width="1.1"/>
<line x1="222.55" y1="559.90" x2="226.95" y2="559.90" stroke="#223c6c" stroke-width="1.1"/>
<line x1="222.55" y1="567.26" x2="226.95" y2="567.26" stroke="#223c6c" stroke-width="1.1"/>
<polyline points="53.60,505.44 78.05,599.28 102.50,598.82 126.95,587.50 151.40,572.69 175.85,555.30 200.30,532.49 224.75,515.47" fill="none" stroke="#2d1c3f" stroke-width="1.7" stroke-linejoin="round"/>
<line x1="53.60" y1="501.30" x2="53.60" y2="509.58" stroke="#2d1c3f" stroke-width="1.1"/>
<line x1="51.40" y1="501.30" x2="55.80" y2="501.30" stroke="#2d1c3f" stroke-width="1.1"/>
<line x1="51.40" y1="509.58" x2="55.80" y2="509.58" stroke="#2d1c3f" stroke-width="1.1"/>
<line x1="126.95" y1="582.90" x2="126.95" y2="592.10" stroke="#2d1c3f" stroke-width="1.1"/>
<line x1="124.75" y1="582.90" x2="129.15" y2="582.90" stroke="#2d1c3f" stroke-width="1.1"/>
<line x1="124.75" y1="592.10" x2="129.15" y2="592.10" stroke="#2d1c3f" stroke-width="1.1"/>
<line x1="151.40" y1="567.17" x2="151.40" y2="578.21" stroke="#2d1c3f" stroke-width="1.1"/>
<line x1="149.20" y1="567.17" x2="153.60" y2="567.17" stroke="#2d1c3f" stroke-width="1.1"/>
<line x1="149.20" y1="578.21" x2="153.60" y2="578.21" stroke="#2d1c3f" stroke-width="1.1"/>
<line x1="175.85" y1="551.62" x2="175.85" y2="558.98" stroke="#2d1c3f" stroke-width="1.1"/>
<line x1="173.65" y1="551.62" x2="178.05" y2="551.62" stroke="#2d1c3f" stroke-width="1.1"/>
<line x1="173.65" y1="558.98" x2="178.05" y2="558.98" stroke="#2d1c3f" stroke-width="1.1"/>
<line x1="200.30" y1="524.48" x2="200.30" y2="540.49" stroke="#2d1c3f" stroke-width="1.1"/>
<line x1="198.10" y1="524.48" x2="202.50" y2="524.48" stroke="#2d1c3f" stroke-width="1.1"/>
<line x1="198.10" y1="540.49" x2="202.50" y2="540.49" stroke="#2d1c3f" stroke-width="1.1"/>
<line x1="224.75" y1="513.44" x2="224.75" y2="517.49" stroke="#2d1c3f" stroke-width="1.1"/>
<line x1="222.55" y1="513.44" x2="226.95" y2="513.44" stroke="#2d1c3f" stroke-width="1.1"/>
<line x1="222.55" y1="517.49" x2="226.95" y2="517.49" stroke="#2d1c3f" stroke-width="1.1"/>
<polygon points="53.60,510.56 56.30,513.26 53.60,515.96 50.90,513.26" fill="#66ad45" stroke="#66ad45" stroke-width="0.3"/>
<polygon points="78.05,595.20 80.75,597.90 78.05,600.60 75.35,597.90" fill="#66ad45" stroke="#66ad45" stroke-width="0.3"/>
<polygon points="102.50,593.82 105.20,596.52 102.50,599.22 99.80,596.52" fill="#66ad45" stroke="#66ad45" stroke-width="0.3"/>
<polygon points="126.95,587.38 129.65,590.08 126.95,592.78 124.25,590.08" fill="#66ad45" stroke="#66ad45" stroke-width="0.3"/>
<polygon points="151.40,569.90 154.10,572.60 151.40,575.30 148.70,572.60" fill="#66ad45" stroke="#66ad45" stroke-width="0.3"/>
<polygon points="175.85,547.08 178.55,549.78 175.85,552.48 173.15,549.78" fill="#66ad45" stroke="#66ad45" stroke-width="0.3"/>
<polygon points="200.30,529.88 203.00,532.58 200.30,535.28 197.60,532.58" fill="#66ad45" stroke="#66ad45" stroke-width="0.3"/>
<polygon points="224.75,505.50 227.45,508.20 224.75,510.90 222.05,508.20" fill="#66ad45" stroke="#66ad45" stroke-width="0.3"/>
<polygon points="53.60,532.43 51.10,528.08 56.10,528.08" fill="#fff" stroke="#a8103a" stroke-width="1.1" stroke-linejoin="round"/>
<polygon points="78.05,598.76 75.55,594.41 80.55,594.41" fill="#fff" stroke="#a8103a" stroke-width="1.1" stroke-linejoin="round"/>
<polygon points="102.50,597.75 100.00,593.39 105.00,593.39" fill="#fff" stroke="#a8103a" stroke-width="1.1" stroke-linejoin="round"/>
<polygon points="126.95,591.49 124.45,587.14 129.45,587.14" fill="#fff" stroke="#a8103a" stroke-width="1.1" stroke-linejoin="round"/>
<polygon points="151.40,564.44 148.90,560.09 153.90,560.09" fill="#fff" stroke="#a8103a" stroke-width="1.1" stroke-linejoin="round"/>
<polygon points="175.85,560.67 173.35,556.32 178.35,556.32" fill="#fff" stroke="#a8103a" stroke-width="1.1" stroke-linejoin="round"/>
<polygon points="200.30,543.00 197.80,538.65 202.80,538.65" fill="#fff" stroke="#a8103a" stroke-width="1.1" stroke-linejoin="round"/>
<polygon points="224.75,535.19 222.25,530.84 227.25,530.84" fill="#fff" stroke="#a8103a" stroke-width="1.1" stroke-linejoin="round"/>
<polygon points="53.60,556.29 51.10,560.64 56.10,560.64" fill="#223c6c" />
<polygon points="78.05,596.12 75.55,600.47 80.55,600.47" fill="#223c6c" />
<polygon points="102.50,595.20 100.00,599.55 105.00,599.55" fill="#223c6c" />
<polygon points="126.95,592.81 124.45,597.16 129.45,597.16" fill="#223c6c" />
<polygon points="151.40,584.62 148.90,588.97 153.90,588.97" fill="#223c6c" />
<polygon points="175.85,577.26 173.35,581.61 178.35,581.61" fill="#223c6c" />
<polygon points="200.30,573.68 197.80,578.03 202.80,578.03" fill="#223c6c" />
<polygon points="224.75,560.89 222.25,565.24 227.25,565.24" fill="#223c6c" />
<circle cx="53.60" cy="505.44" r="2.4" fill="#fff" stroke="#2d1c3f" stroke-width="1.2"/>
<circle cx="78.05" cy="599.28" r="2.4" fill="#fff" stroke="#2d1c3f" stroke-width="1.2"/>
<circle cx="102.50" cy="598.82" r="2.4" fill="#fff" stroke="#2d1c3f" stroke-width="1.2"/>
<circle cx="126.95" cy="587.50" r="2.4" fill="#fff" stroke="#2d1c3f" stroke-width="1.2"/>
<circle cx="151.40" cy="572.69" r="2.4" fill="#fff" stroke="#2d1c3f" stroke-width="1.2"/>
<circle cx="175.85" cy="555.30" r="2.4" fill="#fff" stroke="#2d1c3f" stroke-width="1.2"/>
<circle cx="200.30" cy="532.49" r="2.4" fill="#fff" stroke="#2d1c3f" stroke-width="1.2"/>
<circle cx="224.75" cy="515.47" r="2.4" fill="#fff" stroke="#2d1c3f" stroke-width="1.2"/>
<line x1="67.40" y1="494.60" x2="82.80" y2="494.60" stroke="#3a1d4a" stroke-width="1.8"/>
<circle cx="75.10" cy="494.60" r="2.6" fill="#fff" stroke="#3a1d4a" stroke-width="1.3"/>
<text x="85.80" y="497.60" font-size="8.3" font-weight="normal" font-style="normal" fill="#303030" stroke="#303030" stroke-width="0.15" textLength="11.20" lengthAdjust="spacingAndGlyphs" >WT</text>
<line x1="67.40" y1="503.80" x2="82.80" y2="503.80" stroke="#223c6c" stroke-width="1.8"/>
<polygon points="75.10,500.78 72.30,505.65 77.90,505.65" fill="#223c6c" />
<text x="85.8" y="506.80" font-size="8.3" fill="#303030" stroke="#303030" stroke-width="0.15" textLength="25.70" lengthAdjust="spacingAndGlyphs"><tspan font-style="italic">Csk</tspan> KO</text>
<line x1="67.40" y1="512.80" x2="82.80" y2="512.80" stroke="#a8103a" stroke-width="1.8"/>
<polygon points="75.10,515.71 72.40,511.01 77.80,511.01" fill="#fff" stroke="#a8103a" stroke-width="1.2" stroke-linejoin="round"/>
<text x="85.8" y="515.80" font-size="8.3" fill="#303030" stroke="#303030" stroke-width="0.15" textLength="37.20" lengthAdjust="spacingAndGlyphs"><tspan font-style="italic">CD148</tspan> KO</text>
<line x1="67.40" y1="522.30" x2="82.80" y2="522.30" stroke="#66ad45" stroke-width="1.8"/>
<polygon points="75.10,519.30 78.10,522.30 75.10,525.30 72.10,522.30" fill="#66ad45" stroke="#66ad45" stroke-width="0.3"/>
<text x="85.80" y="525.30" font-size="8.3" font-weight="normal" font-style="normal" fill="#303030" stroke="#303030" stroke-width="0.15" textLength="17.00" lengthAdjust="spacingAndGlyphs" >DKO</text>
<text x="245.40" y="478.50" font-size="9" font-weight="bold" font-style="normal" fill="#111" stroke="#111" stroke-width="0.35" textLength="5.20" lengthAdjust="spacingAndGlyphs" >ii</text>
<line x1="276.20" y1="484.60" x2="276.20" y2="600.90" stroke="#111" stroke-width="1.3"/>
<line x1="273.00" y1="487.50" x2="276.20" y2="487.50" stroke="#111" stroke-width="1.1"/>
<text x="265.60" y="490.30" font-size="8.3" font-weight="normal" font-style="normal" fill="#303030" stroke="#303030" stroke-width="0.05" textLength="4.80" lengthAdjust="spacingAndGlyphs" >3</text>
<line x1="273.00" y1="525.10" x2="276.20" y2="525.10" stroke="#111" stroke-width="1.1"/>
<text x="265.60" y="527.90" font-size="8.3" font-weight="normal" font-style="normal" fill="#303030" stroke="#303030" stroke-width="0.05" textLength="4.80" lengthAdjust="spacingAndGlyphs" >2</text>
<line x1="273.00" y1="562.70" x2="276.20" y2="562.70" stroke="#111" stroke-width="1.1"/>
<text x="265.60" y="565.50" font-size="8.3" font-weight="normal" font-style="normal" fill="#303030" stroke="#303030" stroke-width="0.05" textLength="4.80" lengthAdjust="spacingAndGlyphs" >1</text>
<line x1="273.00" y1="600.30" x2="276.20" y2="600.30" stroke="#111" stroke-width="1.1"/>
<text x="265.60" y="603.10" font-size="8.3" font-weight="normal" font-style="normal" fill="#303030" stroke="#303030" stroke-width="0.05" textLength="4.80" lengthAdjust="spacingAndGlyphs" >0</text>
<rect x="283.15" y="525.55" width="23.50" height="74.75" fill="#56226a" stroke="#3a1450" stroke-width="0.7"/>
<line x1="294.90" y1="525.20" x2="294.90" y2="518.70" stroke="#111" stroke-width="1.1"/>
<line x1="288.90" y1="518.70" x2="300.90" y2="518.70" stroke="#111" stroke-width="1.1"/>
<rect x="319.55" y="567.65" width="24.00" height="32.65" fill="#2d5592" stroke="#1d3c6e" stroke-width="0.7"/>
<line x1="331.55" y1="567.30" x2="331.55" y2="563.30" stroke="#111" stroke-width="1.1"/>
<line x1="325.55" y1="563.30" x2="337.55" y2="563.30" stroke="#111" stroke-width="1.1"/>
<rect x="356.55" y="543.75" width="24.00" height="56.55" fill="#b2083a" stroke="#80062a" stroke-width="0.7"/>
<line x1="368.55" y1="543.40" x2="368.55" y2="538.80" stroke="#111" stroke-width="1.1"/>
<line x1="362.55" y1="538.80" x2="374.55" y2="538.80" stroke="#111" stroke-width="1.1"/>
<rect x="393.45" y="516.55" width="23.60" height="83.75" fill="#6aa946" stroke="#4f8a33" stroke-width="0.7"/>
<line x1="405.25" y1="516.20" x2="405.25" y2="508.50" stroke="#111" stroke-width="1.1"/>
<line x1="399.25" y1="508.50" x2="411.25" y2="508.50" stroke="#111" stroke-width="1.1"/>
<line x1="275.60" y1="600.30" x2="420.40" y2="600.30" stroke="#111" stroke-width="1.3"/>
<line x1="294.90" y1="600.30" x2="294.90" y2="603.10" stroke="#111" stroke-width="1.1"/>
<line x1="331.55" y1="600.30" x2="331.55" y2="603.10" stroke="#111" stroke-width="1.1"/>
<line x1="368.55" y1="600.30" x2="368.55" y2="603.10" stroke="#111" stroke-width="1.1"/>
<line x1="405.25" y1="600.30" x2="405.25" y2="603.10" stroke="#111" stroke-width="1.1"/>
<circle cx="328.30" cy="559.70" r="1.1" fill="#262626"/>
<circle cx="331.80" cy="559.70" r="1.1" fill="#262626"/>
<circle cx="335.30" cy="559.70" r="1.1" fill="#262626"/>
<text x="288.50" y="613.50" font-size="8.7" font-weight="normal" font-style="normal" fill="#303030" stroke="#303030" stroke-width="0.08" textLength="13.40" lengthAdjust="spacingAndGlyphs" >WT</text>
<text x="325.00" y="613.50" font-size="8.7" font-weight="normal" font-style="normal" fill="#303030" stroke="#303030" stroke-width="0.08" textLength="13.20" lengthAdjust="spacingAndGlyphs" >Csk</text>
<text x="356.20" y="613.50" font-size="8.7" font-weight="normal" font-style="italic" fill="#303030" stroke="#303030" stroke-width="0.08" textLength="25.40" lengthAdjust="spacingAndGlyphs" >CD148</text>
<text x="396.10" y="613.50" font-size="8.7" font-weight="normal" font-style="normal" fill="#303030" stroke="#303030" stroke-width="0.08" textLength="18.30" lengthAdjust="spacingAndGlyphs" >DKO</text>
<text x="326.00" y="623.80" font-size="8.7" font-weight="normal" font-style="normal" fill="#303030" stroke="#303030" stroke-width="0.08" textLength="11.00" lengthAdjust="spacingAndGlyphs" >KO</text>
<text x="362.40" y="623.80" font-size="8.7" font-weight="normal" font-style="normal" fill="#303030" stroke="#303030" stroke-width="0.08" textLength="11.80" lengthAdjust="spacingAndGlyphs" >KO</text>
<text transform="translate(260.30,593.00) rotate(-90)" font-size="10.3" font-style="normal" fill="#303030" stroke="#303030" stroke-width="0.2" textLength="101.70" lengthAdjust="spacingAndGlyphs">Proportionate slope (day 3-7)</text>
</svg>
</body></html>
